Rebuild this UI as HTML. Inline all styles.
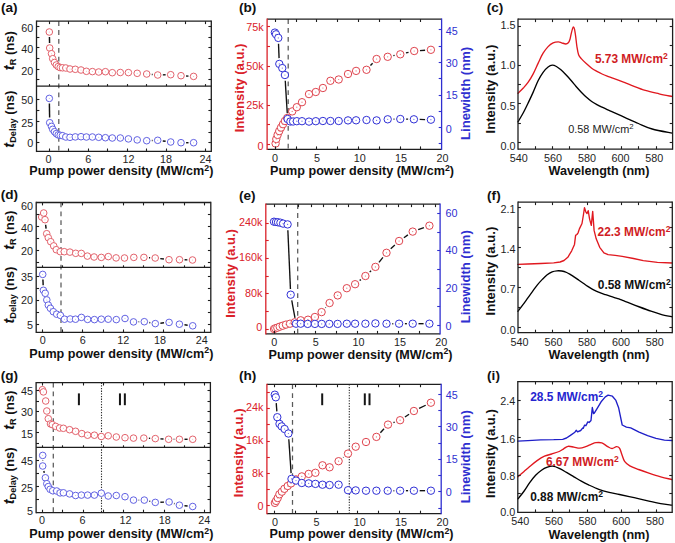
<!DOCTYPE html><html><head><meta charset="utf-8"><style>html,body{margin:0;padding:0;background:#fff;}svg{display:block;font-family:"Liberation Sans", sans-serif;}</style></head><body>
<svg width="675" height="543" viewBox="0 0 675 543">
<rect width="675" height="543" fill="#fff"/>
<line x1="58.8" y1="21.2" x2="58.8" y2="151.4" stroke="#5a5a5a" stroke-width="1.25" stroke-linecap="butt" stroke-dasharray="4.8,4.1"/>
<line x1="49.43" y1="37.1" x2="49.57" y2="42.9" stroke="#111" stroke-width="1.45" stroke-linecap="butt"/>
<line x1="151.78" y1="74.46" x2="152.62" y2="74.54" stroke="#111" stroke-width="1.45" stroke-linecap="butt"/>
<line x1="162.8" y1="74.88" x2="165.6" y2="74.82" stroke="#111" stroke-width="1.45" stroke-linecap="butt"/>
<line x1="186.09" y1="75.98" x2="188.51" y2="76.12" stroke="#111" stroke-width="1.45" stroke-linecap="butt"/>
<circle cx="49.3" cy="32" r="3.3" fill="#fff" stroke="#e05a64" stroke-width="0.95"/>
<circle cx="49.3" cy="32" r="0.5" fill="#e05a64" fill-opacity="0.5"/>
<circle cx="49.7" cy="48" r="3.3" fill="#fff" stroke="#e05a64" stroke-width="0.95"/>
<circle cx="49.7" cy="48" r="0.5" fill="#e05a64" fill-opacity="0.5"/>
<circle cx="51.5" cy="53.7" r="3.3" fill="#fff" stroke="#e05a64" stroke-width="0.95"/>
<circle cx="51.5" cy="53.7" r="0.5" fill="#e05a64" fill-opacity="0.5"/>
<circle cx="52.7" cy="58.7" r="3.3" fill="#fff" stroke="#e05a64" stroke-width="0.95"/>
<circle cx="52.7" cy="58.7" r="0.5" fill="#e05a64" fill-opacity="0.5"/>
<circle cx="54.5" cy="62.5" r="3.3" fill="#fff" stroke="#e05a64" stroke-width="0.95"/>
<circle cx="54.5" cy="62.5" r="0.5" fill="#e05a64" fill-opacity="0.5"/>
<circle cx="56.3" cy="65" r="3.3" fill="#fff" stroke="#e05a64" stroke-width="0.95"/>
<circle cx="56.3" cy="65" r="0.5" fill="#e05a64" fill-opacity="0.5"/>
<circle cx="58.2" cy="66.6" r="3.3" fill="#fff" stroke="#e05a64" stroke-width="0.95"/>
<circle cx="58.2" cy="66.6" r="0.5" fill="#e05a64" fill-opacity="0.5"/>
<circle cx="60.2" cy="67.6" r="3.3" fill="#fff" stroke="#e05a64" stroke-width="0.95"/>
<circle cx="60.2" cy="67.6" r="0.5" fill="#e05a64" fill-opacity="0.5"/>
<circle cx="62.5" cy="67.8" r="3.3" fill="#fff" stroke="#e05a64" stroke-width="0.95"/>
<circle cx="62.5" cy="67.8" r="0.5" fill="#e05a64" fill-opacity="0.5"/>
<circle cx="65.8" cy="68" r="3.3" fill="#fff" stroke="#e05a64" stroke-width="0.95"/>
<circle cx="65.8" cy="68" r="0.5" fill="#e05a64" fill-opacity="0.5"/>
<circle cx="70" cy="69" r="3.3" fill="#fff" stroke="#e05a64" stroke-width="0.95"/>
<circle cx="70" cy="69" r="0.5" fill="#e05a64" fill-opacity="0.5"/>
<circle cx="75.3" cy="69.3" r="3.3" fill="#fff" stroke="#e05a64" stroke-width="0.95"/>
<circle cx="75.3" cy="69.3" r="0.5" fill="#e05a64" fill-opacity="0.5"/>
<circle cx="81" cy="70" r="3.3" fill="#fff" stroke="#e05a64" stroke-width="0.95"/>
<circle cx="81" cy="70" r="0.5" fill="#e05a64" fill-opacity="0.5"/>
<circle cx="86.4" cy="71.3" r="3.3" fill="#fff" stroke="#e05a64" stroke-width="0.95"/>
<circle cx="86.4" cy="71.3" r="0.5" fill="#e05a64" fill-opacity="0.5"/>
<circle cx="92.4" cy="71.6" r="3.3" fill="#fff" stroke="#e05a64" stroke-width="0.95"/>
<circle cx="92.4" cy="71.6" r="0.5" fill="#e05a64" fill-opacity="0.5"/>
<circle cx="98.7" cy="72" r="3.3" fill="#fff" stroke="#e05a64" stroke-width="0.95"/>
<circle cx="98.7" cy="72" r="0.5" fill="#e05a64" fill-opacity="0.5"/>
<circle cx="105.4" cy="71.7" r="3.3" fill="#fff" stroke="#e05a64" stroke-width="0.95"/>
<circle cx="105.4" cy="71.7" r="0.5" fill="#e05a64" fill-opacity="0.5"/>
<circle cx="112.3" cy="72.7" r="3.3" fill="#fff" stroke="#e05a64" stroke-width="0.95"/>
<circle cx="112.3" cy="72.7" r="0.5" fill="#e05a64" fill-opacity="0.5"/>
<circle cx="120.3" cy="72.5" r="3.3" fill="#fff" stroke="#e05a64" stroke-width="0.95"/>
<circle cx="120.3" cy="72.5" r="0.5" fill="#e05a64" fill-opacity="0.5"/>
<circle cx="128.4" cy="72.6" r="3.3" fill="#fff" stroke="#e05a64" stroke-width="0.95"/>
<circle cx="128.4" cy="72.6" r="0.5" fill="#e05a64" fill-opacity="0.5"/>
<circle cx="137.2" cy="73.3" r="3.3" fill="#fff" stroke="#e05a64" stroke-width="0.95"/>
<circle cx="137.2" cy="73.3" r="0.5" fill="#e05a64" fill-opacity="0.5"/>
<circle cx="146.7" cy="74" r="3.3" fill="#fff" stroke="#e05a64" stroke-width="0.95"/>
<circle cx="146.7" cy="74" r="0.5" fill="#e05a64" fill-opacity="0.5"/>
<circle cx="157.7" cy="75" r="3.3" fill="#fff" stroke="#e05a64" stroke-width="0.95"/>
<circle cx="157.7" cy="75" r="0.5" fill="#e05a64" fill-opacity="0.5"/>
<circle cx="170.7" cy="74.7" r="3.3" fill="#fff" stroke="#e05a64" stroke-width="0.95"/>
<circle cx="170.7" cy="74.7" r="0.5" fill="#e05a64" fill-opacity="0.5"/>
<circle cx="181" cy="75.7" r="3.3" fill="#fff" stroke="#e05a64" stroke-width="0.95"/>
<circle cx="181" cy="75.7" r="0.5" fill="#e05a64" fill-opacity="0.5"/>
<circle cx="193.6" cy="76.4" r="3.3" fill="#fff" stroke="#e05a64" stroke-width="0.95"/>
<circle cx="193.6" cy="76.4" r="0.5" fill="#e05a64" fill-opacity="0.5"/>
<line x1="49.38" y1="103.5" x2="49.62" y2="117.6" stroke="#111" stroke-width="1.45" stroke-linecap="butt"/>
<line x1="151.8" y1="140.51" x2="152.6" y2="140.49" stroke="#111" stroke-width="1.45" stroke-linecap="butt"/>
<line x1="162.76" y1="140.96" x2="165.64" y2="141.34" stroke="#111" stroke-width="1.45" stroke-linecap="butt"/>
<line x1="186.1" y1="142.7" x2="188.5" y2="142.7" stroke="#111" stroke-width="1.45" stroke-linecap="butt"/>
<circle cx="49.3" cy="98.4" r="3.3" fill="#fff" stroke="#5a5ae0" stroke-width="0.95"/>
<circle cx="49.3" cy="98.4" r="0.5" fill="#5a5ae0" fill-opacity="0.5"/>
<circle cx="49.7" cy="122.7" r="3.3" fill="#fff" stroke="#5a5ae0" stroke-width="0.95"/>
<circle cx="49.7" cy="122.7" r="0.5" fill="#5a5ae0" fill-opacity="0.5"/>
<circle cx="51.5" cy="126.4" r="3.3" fill="#fff" stroke="#5a5ae0" stroke-width="0.95"/>
<circle cx="51.5" cy="126.4" r="0.5" fill="#5a5ae0" fill-opacity="0.5"/>
<circle cx="52.7" cy="129.3" r="3.3" fill="#fff" stroke="#5a5ae0" stroke-width="0.95"/>
<circle cx="52.7" cy="129.3" r="0.5" fill="#5a5ae0" fill-opacity="0.5"/>
<circle cx="54.5" cy="131.7" r="3.3" fill="#fff" stroke="#5a5ae0" stroke-width="0.95"/>
<circle cx="54.5" cy="131.7" r="0.5" fill="#5a5ae0" fill-opacity="0.5"/>
<circle cx="56.3" cy="133.6" r="3.3" fill="#fff" stroke="#5a5ae0" stroke-width="0.95"/>
<circle cx="56.3" cy="133.6" r="0.5" fill="#5a5ae0" fill-opacity="0.5"/>
<circle cx="58.2" cy="134.9" r="3.3" fill="#fff" stroke="#5a5ae0" stroke-width="0.95"/>
<circle cx="58.2" cy="134.9" r="0.5" fill="#5a5ae0" fill-opacity="0.5"/>
<circle cx="60.2" cy="135.3" r="3.3" fill="#fff" stroke="#5a5ae0" stroke-width="0.95"/>
<circle cx="60.2" cy="135.3" r="0.5" fill="#5a5ae0" fill-opacity="0.5"/>
<circle cx="62.5" cy="135.7" r="3.3" fill="#fff" stroke="#5a5ae0" stroke-width="0.95"/>
<circle cx="62.5" cy="135.7" r="0.5" fill="#5a5ae0" fill-opacity="0.5"/>
<circle cx="65.8" cy="137" r="3.3" fill="#fff" stroke="#5a5ae0" stroke-width="0.95"/>
<circle cx="65.8" cy="137" r="0.5" fill="#5a5ae0" fill-opacity="0.5"/>
<circle cx="70" cy="137.3" r="3.3" fill="#fff" stroke="#5a5ae0" stroke-width="0.95"/>
<circle cx="70" cy="137.3" r="0.5" fill="#5a5ae0" fill-opacity="0.5"/>
<circle cx="75.3" cy="136.9" r="3.3" fill="#fff" stroke="#5a5ae0" stroke-width="0.95"/>
<circle cx="75.3" cy="136.9" r="0.5" fill="#5a5ae0" fill-opacity="0.5"/>
<circle cx="81" cy="136.7" r="3.3" fill="#fff" stroke="#5a5ae0" stroke-width="0.95"/>
<circle cx="81" cy="136.7" r="0.5" fill="#5a5ae0" fill-opacity="0.5"/>
<circle cx="86.4" cy="137" r="3.3" fill="#fff" stroke="#5a5ae0" stroke-width="0.95"/>
<circle cx="86.4" cy="137" r="0.5" fill="#5a5ae0" fill-opacity="0.5"/>
<circle cx="92.4" cy="137" r="3.3" fill="#fff" stroke="#5a5ae0" stroke-width="0.95"/>
<circle cx="92.4" cy="137" r="0.5" fill="#5a5ae0" fill-opacity="0.5"/>
<circle cx="98.7" cy="137.3" r="3.3" fill="#fff" stroke="#5a5ae0" stroke-width="0.95"/>
<circle cx="98.7" cy="137.3" r="0.5" fill="#5a5ae0" fill-opacity="0.5"/>
<circle cx="105.4" cy="137.7" r="3.3" fill="#fff" stroke="#5a5ae0" stroke-width="0.95"/>
<circle cx="105.4" cy="137.7" r="0.5" fill="#5a5ae0" fill-opacity="0.5"/>
<circle cx="112.3" cy="138" r="3.3" fill="#fff" stroke="#5a5ae0" stroke-width="0.95"/>
<circle cx="112.3" cy="138" r="0.5" fill="#5a5ae0" fill-opacity="0.5"/>
<circle cx="120.3" cy="138" r="3.3" fill="#fff" stroke="#5a5ae0" stroke-width="0.95"/>
<circle cx="120.3" cy="138" r="0.5" fill="#5a5ae0" fill-opacity="0.5"/>
<circle cx="128.4" cy="138.9" r="3.3" fill="#fff" stroke="#5a5ae0" stroke-width="0.95"/>
<circle cx="128.4" cy="138.9" r="0.5" fill="#5a5ae0" fill-opacity="0.5"/>
<circle cx="137.2" cy="139.9" r="3.3" fill="#fff" stroke="#5a5ae0" stroke-width="0.95"/>
<circle cx="137.2" cy="139.9" r="0.5" fill="#5a5ae0" fill-opacity="0.5"/>
<circle cx="146.7" cy="140.7" r="3.3" fill="#fff" stroke="#5a5ae0" stroke-width="0.95"/>
<circle cx="146.7" cy="140.7" r="0.5" fill="#5a5ae0" fill-opacity="0.5"/>
<circle cx="157.7" cy="140.3" r="3.3" fill="#fff" stroke="#5a5ae0" stroke-width="0.95"/>
<circle cx="157.7" cy="140.3" r="0.5" fill="#5a5ae0" fill-opacity="0.5"/>
<circle cx="170.7" cy="142" r="3.3" fill="#fff" stroke="#5a5ae0" stroke-width="0.95"/>
<circle cx="170.7" cy="142" r="0.5" fill="#5a5ae0" fill-opacity="0.5"/>
<circle cx="181" cy="142.7" r="3.3" fill="#fff" stroke="#5a5ae0" stroke-width="0.95"/>
<circle cx="181" cy="142.7" r="0.5" fill="#5a5ae0" fill-opacity="0.5"/>
<circle cx="193.6" cy="142.7" r="3.3" fill="#fff" stroke="#5a5ae0" stroke-width="0.95"/>
<circle cx="193.6" cy="142.7" r="0.5" fill="#5a5ae0" fill-opacity="0.5"/>
<line x1="36.5" y1="21.2" x2="211.3" y2="21.2" stroke="#1e1e1e" stroke-width="1.3" stroke-linecap="butt"/>
<line x1="36.5" y1="151.4" x2="211.3" y2="151.4" stroke="#1e1e1e" stroke-width="1.3" stroke-linecap="butt"/>
<line x1="36.5" y1="20.55" x2="36.5" y2="152.05" stroke="#1e1e1e" stroke-width="1.3" stroke-linecap="butt"/>
<line x1="211.3" y1="20.55" x2="211.3" y2="152.05" stroke="#1e1e1e" stroke-width="1.3" stroke-linecap="butt"/>
<line x1="36.5" y1="86.1" x2="211.3" y2="86.1" stroke="#1e1e1e" stroke-width="1.15" stroke-linecap="butt"/>
<line x1="49.5" y1="21.2" x2="49.5" y2="24.1" stroke="#1e1e1e" stroke-width="1.1" stroke-linecap="butt"/>
<line x1="68.5" y1="21.2" x2="68.5" y2="24.1" stroke="#1e1e1e" stroke-width="1.1" stroke-linecap="butt"/>
<line x1="88.5" y1="21.2" x2="88.5" y2="24.1" stroke="#1e1e1e" stroke-width="1.1" stroke-linecap="butt"/>
<line x1="107.5" y1="21.2" x2="107.5" y2="24.1" stroke="#1e1e1e" stroke-width="1.1" stroke-linecap="butt"/>
<line x1="127.5" y1="21.2" x2="127.5" y2="24.1" stroke="#1e1e1e" stroke-width="1.1" stroke-linecap="butt"/>
<line x1="146.5" y1="21.2" x2="146.5" y2="24.1" stroke="#1e1e1e" stroke-width="1.1" stroke-linecap="butt"/>
<line x1="166.5" y1="21.2" x2="166.5" y2="24.1" stroke="#1e1e1e" stroke-width="1.1" stroke-linecap="butt"/>
<line x1="185.5" y1="21.2" x2="185.5" y2="24.1" stroke="#1e1e1e" stroke-width="1.1" stroke-linecap="butt"/>
<line x1="205.5" y1="21.2" x2="205.5" y2="24.1" stroke="#1e1e1e" stroke-width="1.1" stroke-linecap="butt"/>
<line x1="49.5" y1="86.1" x2="49.5" y2="84.1" stroke="#1e1e1e" stroke-width="1.1" stroke-linecap="butt"/>
<line x1="68.5" y1="86.1" x2="68.5" y2="84.1" stroke="#1e1e1e" stroke-width="1.1" stroke-linecap="butt"/>
<line x1="88.5" y1="86.1" x2="88.5" y2="84.1" stroke="#1e1e1e" stroke-width="1.1" stroke-linecap="butt"/>
<line x1="107.5" y1="86.1" x2="107.5" y2="84.1" stroke="#1e1e1e" stroke-width="1.1" stroke-linecap="butt"/>
<line x1="127.5" y1="86.1" x2="127.5" y2="84.1" stroke="#1e1e1e" stroke-width="1.1" stroke-linecap="butt"/>
<line x1="146.5" y1="86.1" x2="146.5" y2="84.1" stroke="#1e1e1e" stroke-width="1.1" stroke-linecap="butt"/>
<line x1="166.5" y1="86.1" x2="166.5" y2="84.1" stroke="#1e1e1e" stroke-width="1.1" stroke-linecap="butt"/>
<line x1="185.5" y1="86.1" x2="185.5" y2="84.1" stroke="#1e1e1e" stroke-width="1.1" stroke-linecap="butt"/>
<line x1="205.5" y1="86.1" x2="205.5" y2="84.1" stroke="#1e1e1e" stroke-width="1.1" stroke-linecap="butt"/>
<line x1="49.5" y1="151.4" x2="49.5" y2="148.5" stroke="#1e1e1e" stroke-width="1.1" stroke-linecap="butt"/>
<line x1="68.5" y1="151.4" x2="68.5" y2="148.5" stroke="#1e1e1e" stroke-width="1.1" stroke-linecap="butt"/>
<line x1="88.5" y1="151.4" x2="88.5" y2="148.5" stroke="#1e1e1e" stroke-width="1.1" stroke-linecap="butt"/>
<line x1="107.5" y1="151.4" x2="107.5" y2="148.5" stroke="#1e1e1e" stroke-width="1.1" stroke-linecap="butt"/>
<line x1="127.5" y1="151.4" x2="127.5" y2="148.5" stroke="#1e1e1e" stroke-width="1.1" stroke-linecap="butt"/>
<line x1="146.5" y1="151.4" x2="146.5" y2="148.5" stroke="#1e1e1e" stroke-width="1.1" stroke-linecap="butt"/>
<line x1="166.5" y1="151.4" x2="166.5" y2="148.5" stroke="#1e1e1e" stroke-width="1.1" stroke-linecap="butt"/>
<line x1="185.5" y1="151.4" x2="185.5" y2="148.5" stroke="#1e1e1e" stroke-width="1.1" stroke-linecap="butt"/>
<line x1="205.5" y1="151.4" x2="205.5" y2="148.5" stroke="#1e1e1e" stroke-width="1.1" stroke-linecap="butt"/>
<line x1="36.5" y1="26.5" x2="39.4" y2="26.5" stroke="#1e1e1e" stroke-width="1.1" stroke-linecap="butt"/>
<line x1="36.5" y1="37.5" x2="39.4" y2="37.5" stroke="#1e1e1e" stroke-width="1.1" stroke-linecap="butt"/>
<line x1="36.5" y1="47.5" x2="39.4" y2="47.5" stroke="#1e1e1e" stroke-width="1.1" stroke-linecap="butt"/>
<line x1="36.5" y1="58.5" x2="39.4" y2="58.5" stroke="#1e1e1e" stroke-width="1.1" stroke-linecap="butt"/>
<line x1="36.5" y1="69.5" x2="39.4" y2="69.5" stroke="#1e1e1e" stroke-width="1.1" stroke-linecap="butt"/>
<line x1="36.5" y1="79.5" x2="39.4" y2="79.5" stroke="#1e1e1e" stroke-width="1.1" stroke-linecap="butt"/>
<line x1="211.3" y1="26.5" x2="208.4" y2="26.5" stroke="#1e1e1e" stroke-width="1.1" stroke-linecap="butt"/>
<line x1="211.3" y1="37.5" x2="208.4" y2="37.5" stroke="#1e1e1e" stroke-width="1.1" stroke-linecap="butt"/>
<line x1="211.3" y1="47.5" x2="208.4" y2="47.5" stroke="#1e1e1e" stroke-width="1.1" stroke-linecap="butt"/>
<line x1="211.3" y1="58.5" x2="208.4" y2="58.5" stroke="#1e1e1e" stroke-width="1.1" stroke-linecap="butt"/>
<line x1="211.3" y1="69.5" x2="208.4" y2="69.5" stroke="#1e1e1e" stroke-width="1.1" stroke-linecap="butt"/>
<line x1="211.3" y1="79.5" x2="208.4" y2="79.5" stroke="#1e1e1e" stroke-width="1.1" stroke-linecap="butt"/>
<line x1="36.5" y1="99.5" x2="39.4" y2="99.5" stroke="#1e1e1e" stroke-width="1.1" stroke-linecap="butt"/>
<line x1="36.5" y1="110.5" x2="39.4" y2="110.5" stroke="#1e1e1e" stroke-width="1.1" stroke-linecap="butt"/>
<line x1="36.5" y1="121.5" x2="39.4" y2="121.5" stroke="#1e1e1e" stroke-width="1.1" stroke-linecap="butt"/>
<line x1="36.5" y1="132.5" x2="39.4" y2="132.5" stroke="#1e1e1e" stroke-width="1.1" stroke-linecap="butt"/>
<line x1="36.5" y1="142.5" x2="39.4" y2="142.5" stroke="#1e1e1e" stroke-width="1.1" stroke-linecap="butt"/>
<line x1="211.3" y1="99.5" x2="208.4" y2="99.5" stroke="#1e1e1e" stroke-width="1.1" stroke-linecap="butt"/>
<line x1="211.3" y1="110.5" x2="208.4" y2="110.5" stroke="#1e1e1e" stroke-width="1.1" stroke-linecap="butt"/>
<line x1="211.3" y1="121.5" x2="208.4" y2="121.5" stroke="#1e1e1e" stroke-width="1.1" stroke-linecap="butt"/>
<line x1="211.3" y1="132.5" x2="208.4" y2="132.5" stroke="#1e1e1e" stroke-width="1.1" stroke-linecap="butt"/>
<line x1="211.3" y1="142.5" x2="208.4" y2="142.5" stroke="#1e1e1e" stroke-width="1.1" stroke-linecap="butt"/>
<text x="33.3" y="31.92" font-size="10.8" fill="#1e1e1e" text-anchor="end" font-weight="normal">60</text>
<text x="33.3" y="53.42" font-size="10.8" fill="#1e1e1e" text-anchor="end" font-weight="normal">40</text>
<text x="33.3" y="75.12" font-size="10.8" fill="#1e1e1e" text-anchor="end" font-weight="normal">20</text>
<text x="33.3" y="104.32" font-size="10.8" fill="#1e1e1e" text-anchor="end" font-weight="normal">50</text>
<text x="33.3" y="127.02" font-size="10.8" fill="#1e1e1e" text-anchor="end" font-weight="normal">25</text>
<text x="33.3" y="147.32" font-size="10.8" fill="#1e1e1e" text-anchor="end" font-weight="normal">0</text>
<text x="48.6" y="162.92" font-size="10.8" fill="#1e1e1e" text-anchor="middle" font-weight="normal">0</text>
<text x="88.3" y="162.92" font-size="10.8" fill="#1e1e1e" text-anchor="middle" font-weight="normal">6</text>
<text x="128.4" y="162.92" font-size="10.8" fill="#1e1e1e" text-anchor="middle" font-weight="normal">12</text>
<text x="166" y="162.92" font-size="10.8" fill="#1e1e1e" text-anchor="middle" font-weight="normal">18</text>
<text x="205.5" y="162.92" font-size="10.8" fill="#1e1e1e" text-anchor="middle" font-weight="normal">24</text>
<text x="29.3" y="174.8" font-size="12.6" fill="#111" font-weight="bold" text-anchor="start">Pump power density (MW/cm<tspan font-size="8.82" dy="-4.2">2</tspan><tspan dy="4.2">)</tspan></text>
<text x="13.8" y="50.6" font-size="13.1" fill="#111" font-weight="bold" text-anchor="middle" transform="rotate(-90 13.8 50.6)"><tspan font-style="italic" font-size="14.67">t</tspan><tspan font-size="9.17" dy="2.6">R</tspan><tspan dy="-2.6"> (ns)</tspan></text>
<text x="13.8" y="119.2" font-size="13.1" fill="#111" font-weight="bold" text-anchor="middle" transform="rotate(-90 13.8 119.2)"><tspan font-style="italic" font-size="14.67">t</tspan><tspan font-size="9.17" dy="2.6">Delay</tspan><tspan dy="-2.6"> (ns)</tspan></text>
<text x="1" y="12.3" font-size="13.6" fill="#111" text-anchor="start" font-weight="bold">(a)</text>
<line x1="61" y1="202.5" x2="61" y2="332.3" stroke="#5a5a5a" stroke-width="1.25" stroke-linecap="butt" stroke-dasharray="4.8,4.1"/>
<line x1="45.61" y1="224.76" x2="46.09" y2="228.64" stroke="#111" stroke-width="1.45" stroke-linecap="butt"/>
<line x1="148.99" y1="257.67" x2="150.11" y2="257.73" stroke="#111" stroke-width="1.45" stroke-linecap="butt"/>
<line x1="160.26" y1="258.62" x2="163.94" y2="259.08" stroke="#111" stroke-width="1.45" stroke-linecap="butt"/>
<line x1="184.6" y1="259.82" x2="187.4" y2="259.88" stroke="#111" stroke-width="1.45" stroke-linecap="butt"/>
<circle cx="41.7" cy="217" r="3.3" fill="#fff" stroke="#e05a64" stroke-width="0.95"/>
<circle cx="41.7" cy="217" r="0.5" fill="#e05a64" fill-opacity="0.5"/>
<circle cx="43.7" cy="213" r="3.3" fill="#fff" stroke="#e05a64" stroke-width="0.95"/>
<circle cx="43.7" cy="213" r="0.5" fill="#e05a64" fill-opacity="0.5"/>
<circle cx="45" cy="219.7" r="3.3" fill="#fff" stroke="#e05a64" stroke-width="0.95"/>
<circle cx="45" cy="219.7" r="0.5" fill="#e05a64" fill-opacity="0.5"/>
<circle cx="46.7" cy="233.7" r="3.3" fill="#fff" stroke="#e05a64" stroke-width="0.95"/>
<circle cx="46.7" cy="233.7" r="0.5" fill="#e05a64" fill-opacity="0.5"/>
<circle cx="48.3" cy="237.7" r="3.3" fill="#fff" stroke="#e05a64" stroke-width="0.95"/>
<circle cx="48.3" cy="237.7" r="0.5" fill="#e05a64" fill-opacity="0.5"/>
<circle cx="50.7" cy="241.7" r="3.3" fill="#fff" stroke="#e05a64" stroke-width="0.95"/>
<circle cx="50.7" cy="241.7" r="0.5" fill="#e05a64" fill-opacity="0.5"/>
<circle cx="53.7" cy="245.9" r="3.3" fill="#fff" stroke="#e05a64" stroke-width="0.95"/>
<circle cx="53.7" cy="245.9" r="0.5" fill="#e05a64" fill-opacity="0.5"/>
<circle cx="56.3" cy="249.7" r="3.3" fill="#fff" stroke="#e05a64" stroke-width="0.95"/>
<circle cx="56.3" cy="249.7" r="0.5" fill="#e05a64" fill-opacity="0.5"/>
<circle cx="60.3" cy="251.7" r="3.3" fill="#fff" stroke="#e05a64" stroke-width="0.95"/>
<circle cx="60.3" cy="251.7" r="0.5" fill="#e05a64" fill-opacity="0.5"/>
<circle cx="64.3" cy="251.7" r="3.3" fill="#fff" stroke="#e05a64" stroke-width="0.95"/>
<circle cx="64.3" cy="251.7" r="0.5" fill="#e05a64" fill-opacity="0.5"/>
<circle cx="69.9" cy="252.1" r="3.3" fill="#fff" stroke="#e05a64" stroke-width="0.95"/>
<circle cx="69.9" cy="252.1" r="0.5" fill="#e05a64" fill-opacity="0.5"/>
<circle cx="75.7" cy="253.3" r="3.3" fill="#fff" stroke="#e05a64" stroke-width="0.95"/>
<circle cx="75.7" cy="253.3" r="0.5" fill="#e05a64" fill-opacity="0.5"/>
<circle cx="81.3" cy="253.4" r="3.3" fill="#fff" stroke="#e05a64" stroke-width="0.95"/>
<circle cx="81.3" cy="253.4" r="0.5" fill="#e05a64" fill-opacity="0.5"/>
<circle cx="87.4" cy="256.1" r="3.3" fill="#fff" stroke="#e05a64" stroke-width="0.95"/>
<circle cx="87.4" cy="256.1" r="0.5" fill="#e05a64" fill-opacity="0.5"/>
<circle cx="94.1" cy="257" r="3.3" fill="#fff" stroke="#e05a64" stroke-width="0.95"/>
<circle cx="94.1" cy="257" r="0.5" fill="#e05a64" fill-opacity="0.5"/>
<circle cx="101.3" cy="257.4" r="3.3" fill="#fff" stroke="#e05a64" stroke-width="0.95"/>
<circle cx="101.3" cy="257.4" r="0.5" fill="#e05a64" fill-opacity="0.5"/>
<circle cx="108.3" cy="256.6" r="3.3" fill="#fff" stroke="#e05a64" stroke-width="0.95"/>
<circle cx="108.3" cy="256.6" r="0.5" fill="#e05a64" fill-opacity="0.5"/>
<circle cx="116.1" cy="257.9" r="3.3" fill="#fff" stroke="#e05a64" stroke-width="0.95"/>
<circle cx="116.1" cy="257.9" r="0.5" fill="#e05a64" fill-opacity="0.5"/>
<circle cx="124.5" cy="258" r="3.3" fill="#fff" stroke="#e05a64" stroke-width="0.95"/>
<circle cx="124.5" cy="258" r="0.5" fill="#e05a64" fill-opacity="0.5"/>
<circle cx="133.8" cy="257.4" r="3.3" fill="#fff" stroke="#e05a64" stroke-width="0.95"/>
<circle cx="133.8" cy="257.4" r="0.5" fill="#e05a64" fill-opacity="0.5"/>
<circle cx="143.9" cy="257.4" r="3.3" fill="#fff" stroke="#e05a64" stroke-width="0.95"/>
<circle cx="143.9" cy="257.4" r="0.5" fill="#e05a64" fill-opacity="0.5"/>
<circle cx="155.2" cy="258" r="3.3" fill="#fff" stroke="#e05a64" stroke-width="0.95"/>
<circle cx="155.2" cy="258" r="0.5" fill="#e05a64" fill-opacity="0.5"/>
<circle cx="169" cy="259.7" r="3.3" fill="#fff" stroke="#e05a64" stroke-width="0.95"/>
<circle cx="169" cy="259.7" r="0.5" fill="#e05a64" fill-opacity="0.5"/>
<circle cx="179.5" cy="259.7" r="3.3" fill="#fff" stroke="#e05a64" stroke-width="0.95"/>
<circle cx="179.5" cy="259.7" r="0.5" fill="#e05a64" fill-opacity="0.5"/>
<circle cx="192.5" cy="260" r="3.3" fill="#fff" stroke="#e05a64" stroke-width="0.95"/>
<circle cx="192.5" cy="260" r="0.5" fill="#e05a64" fill-opacity="0.5"/>
<line x1="42.92" y1="279.5" x2="43.18" y2="285.2" stroke="#111" stroke-width="1.45" stroke-linecap="butt"/>
<line x1="138.6" y1="321.81" x2="139.2" y2="321.79" stroke="#111" stroke-width="1.45" stroke-linecap="butt"/>
<line x1="149.33" y1="322.57" x2="150.27" y2="322.73" stroke="#111" stroke-width="1.45" stroke-linecap="butt"/>
<line x1="160.38" y1="323.16" x2="164.02" y2="322.84" stroke="#111" stroke-width="1.45" stroke-linecap="butt"/>
<line x1="184.46" y1="324.81" x2="187.64" y2="325.19" stroke="#111" stroke-width="1.45" stroke-linecap="butt"/>
<circle cx="42.7" cy="274.4" r="3.3" fill="#fff" stroke="#5a5ae0" stroke-width="0.95"/>
<circle cx="42.7" cy="274.4" r="0.5" fill="#5a5ae0" fill-opacity="0.5"/>
<circle cx="43.4" cy="290.3" r="3.3" fill="#fff" stroke="#5a5ae0" stroke-width="0.95"/>
<circle cx="43.4" cy="290.3" r="0.5" fill="#5a5ae0" fill-opacity="0.5"/>
<circle cx="45.2" cy="293.3" r="3.3" fill="#fff" stroke="#5a5ae0" stroke-width="0.95"/>
<circle cx="45.2" cy="293.3" r="0.5" fill="#5a5ae0" fill-opacity="0.5"/>
<circle cx="46.8" cy="299.9" r="3.3" fill="#fff" stroke="#5a5ae0" stroke-width="0.95"/>
<circle cx="46.8" cy="299.9" r="0.5" fill="#5a5ae0" fill-opacity="0.5"/>
<circle cx="48.3" cy="305.1" r="3.3" fill="#fff" stroke="#5a5ae0" stroke-width="0.95"/>
<circle cx="48.3" cy="305.1" r="0.5" fill="#5a5ae0" fill-opacity="0.5"/>
<circle cx="50.4" cy="308.3" r="3.3" fill="#fff" stroke="#5a5ae0" stroke-width="0.95"/>
<circle cx="50.4" cy="308.3" r="0.5" fill="#5a5ae0" fill-opacity="0.5"/>
<circle cx="53.3" cy="311.7" r="3.3" fill="#fff" stroke="#5a5ae0" stroke-width="0.95"/>
<circle cx="53.3" cy="311.7" r="0.5" fill="#5a5ae0" fill-opacity="0.5"/>
<circle cx="56.7" cy="314.2" r="3.3" fill="#fff" stroke="#5a5ae0" stroke-width="0.95"/>
<circle cx="56.7" cy="314.2" r="0.5" fill="#5a5ae0" fill-opacity="0.5"/>
<circle cx="60.4" cy="315.4" r="3.3" fill="#fff" stroke="#5a5ae0" stroke-width="0.95"/>
<circle cx="60.4" cy="315.4" r="0.5" fill="#5a5ae0" fill-opacity="0.5"/>
<circle cx="64.5" cy="319.2" r="3.3" fill="#fff" stroke="#5a5ae0" stroke-width="0.95"/>
<circle cx="64.5" cy="319.2" r="0.5" fill="#5a5ae0" fill-opacity="0.5"/>
<circle cx="70.2" cy="319" r="3.3" fill="#fff" stroke="#5a5ae0" stroke-width="0.95"/>
<circle cx="70.2" cy="319" r="0.5" fill="#5a5ae0" fill-opacity="0.5"/>
<circle cx="75.5" cy="319.2" r="3.3" fill="#fff" stroke="#5a5ae0" stroke-width="0.95"/>
<circle cx="75.5" cy="319.2" r="0.5" fill="#5a5ae0" fill-opacity="0.5"/>
<circle cx="81.4" cy="317.4" r="3.3" fill="#fff" stroke="#5a5ae0" stroke-width="0.95"/>
<circle cx="81.4" cy="317.4" r="0.5" fill="#5a5ae0" fill-opacity="0.5"/>
<circle cx="87.6" cy="319.4" r="3.3" fill="#fff" stroke="#5a5ae0" stroke-width="0.95"/>
<circle cx="87.6" cy="319.4" r="0.5" fill="#5a5ae0" fill-opacity="0.5"/>
<circle cx="94.4" cy="319.6" r="3.3" fill="#fff" stroke="#5a5ae0" stroke-width="0.95"/>
<circle cx="94.4" cy="319.6" r="0.5" fill="#5a5ae0" fill-opacity="0.5"/>
<circle cx="101.3" cy="319.2" r="3.3" fill="#fff" stroke="#5a5ae0" stroke-width="0.95"/>
<circle cx="101.3" cy="319.2" r="0.5" fill="#5a5ae0" fill-opacity="0.5"/>
<circle cx="108.2" cy="319.2" r="3.3" fill="#fff" stroke="#5a5ae0" stroke-width="0.95"/>
<circle cx="108.2" cy="319.2" r="0.5" fill="#5a5ae0" fill-opacity="0.5"/>
<circle cx="116.3" cy="319.6" r="3.3" fill="#fff" stroke="#5a5ae0" stroke-width="0.95"/>
<circle cx="116.3" cy="319.6" r="0.5" fill="#5a5ae0" fill-opacity="0.5"/>
<circle cx="125" cy="318.5" r="3.3" fill="#fff" stroke="#5a5ae0" stroke-width="0.95"/>
<circle cx="125" cy="318.5" r="0.5" fill="#5a5ae0" fill-opacity="0.5"/>
<circle cx="133.5" cy="321.9" r="3.3" fill="#fff" stroke="#5a5ae0" stroke-width="0.95"/>
<circle cx="133.5" cy="321.9" r="0.5" fill="#5a5ae0" fill-opacity="0.5"/>
<circle cx="144.3" cy="321.7" r="3.3" fill="#fff" stroke="#5a5ae0" stroke-width="0.95"/>
<circle cx="144.3" cy="321.7" r="0.5" fill="#5a5ae0" fill-opacity="0.5"/>
<circle cx="155.3" cy="323.6" r="3.3" fill="#fff" stroke="#5a5ae0" stroke-width="0.95"/>
<circle cx="155.3" cy="323.6" r="0.5" fill="#5a5ae0" fill-opacity="0.5"/>
<circle cx="169.1" cy="322.4" r="3.3" fill="#fff" stroke="#5a5ae0" stroke-width="0.95"/>
<circle cx="169.1" cy="322.4" r="0.5" fill="#5a5ae0" fill-opacity="0.5"/>
<circle cx="179.4" cy="324.2" r="3.3" fill="#fff" stroke="#5a5ae0" stroke-width="0.95"/>
<circle cx="179.4" cy="324.2" r="0.5" fill="#5a5ae0" fill-opacity="0.5"/>
<circle cx="192.7" cy="325.8" r="3.3" fill="#fff" stroke="#5a5ae0" stroke-width="0.95"/>
<circle cx="192.7" cy="325.8" r="0.5" fill="#5a5ae0" fill-opacity="0.5"/>
<line x1="36.2" y1="202.5" x2="210.8" y2="202.5" stroke="#1e1e1e" stroke-width="1.3" stroke-linecap="butt"/>
<line x1="36.2" y1="332.3" x2="210.8" y2="332.3" stroke="#1e1e1e" stroke-width="1.3" stroke-linecap="butt"/>
<line x1="36.2" y1="201.85" x2="36.2" y2="332.95" stroke="#1e1e1e" stroke-width="1.3" stroke-linecap="butt"/>
<line x1="210.8" y1="201.85" x2="210.8" y2="332.95" stroke="#1e1e1e" stroke-width="1.3" stroke-linecap="butt"/>
<line x1="36.2" y1="267.3" x2="210.8" y2="267.3" stroke="#1e1e1e" stroke-width="1.15" stroke-linecap="butt"/>
<line x1="42.5" y1="202.5" x2="42.5" y2="205.4" stroke="#1e1e1e" stroke-width="1.1" stroke-linecap="butt"/>
<line x1="62.5" y1="202.5" x2="62.5" y2="205.4" stroke="#1e1e1e" stroke-width="1.1" stroke-linecap="butt"/>
<line x1="82.5" y1="202.5" x2="82.5" y2="205.4" stroke="#1e1e1e" stroke-width="1.1" stroke-linecap="butt"/>
<line x1="103.5" y1="202.5" x2="103.5" y2="205.4" stroke="#1e1e1e" stroke-width="1.1" stroke-linecap="butt"/>
<line x1="123.5" y1="202.5" x2="123.5" y2="205.4" stroke="#1e1e1e" stroke-width="1.1" stroke-linecap="butt"/>
<line x1="143.5" y1="202.5" x2="143.5" y2="205.4" stroke="#1e1e1e" stroke-width="1.1" stroke-linecap="butt"/>
<line x1="163.5" y1="202.5" x2="163.5" y2="205.4" stroke="#1e1e1e" stroke-width="1.1" stroke-linecap="butt"/>
<line x1="184.5" y1="202.5" x2="184.5" y2="205.4" stroke="#1e1e1e" stroke-width="1.1" stroke-linecap="butt"/>
<line x1="204.5" y1="202.5" x2="204.5" y2="205.4" stroke="#1e1e1e" stroke-width="1.1" stroke-linecap="butt"/>
<line x1="42.5" y1="267.3" x2="42.5" y2="265.3" stroke="#1e1e1e" stroke-width="1.1" stroke-linecap="butt"/>
<line x1="62.5" y1="267.3" x2="62.5" y2="265.3" stroke="#1e1e1e" stroke-width="1.1" stroke-linecap="butt"/>
<line x1="82.5" y1="267.3" x2="82.5" y2="265.3" stroke="#1e1e1e" stroke-width="1.1" stroke-linecap="butt"/>
<line x1="103.5" y1="267.3" x2="103.5" y2="265.3" stroke="#1e1e1e" stroke-width="1.1" stroke-linecap="butt"/>
<line x1="123.5" y1="267.3" x2="123.5" y2="265.3" stroke="#1e1e1e" stroke-width="1.1" stroke-linecap="butt"/>
<line x1="143.5" y1="267.3" x2="143.5" y2="265.3" stroke="#1e1e1e" stroke-width="1.1" stroke-linecap="butt"/>
<line x1="163.5" y1="267.3" x2="163.5" y2="265.3" stroke="#1e1e1e" stroke-width="1.1" stroke-linecap="butt"/>
<line x1="184.5" y1="267.3" x2="184.5" y2="265.3" stroke="#1e1e1e" stroke-width="1.1" stroke-linecap="butt"/>
<line x1="204.5" y1="267.3" x2="204.5" y2="265.3" stroke="#1e1e1e" stroke-width="1.1" stroke-linecap="butt"/>
<line x1="42.5" y1="332.3" x2="42.5" y2="329.4" stroke="#1e1e1e" stroke-width="1.1" stroke-linecap="butt"/>
<line x1="62.5" y1="332.3" x2="62.5" y2="329.4" stroke="#1e1e1e" stroke-width="1.1" stroke-linecap="butt"/>
<line x1="82.5" y1="332.3" x2="82.5" y2="329.4" stroke="#1e1e1e" stroke-width="1.1" stroke-linecap="butt"/>
<line x1="103.5" y1="332.3" x2="103.5" y2="329.4" stroke="#1e1e1e" stroke-width="1.1" stroke-linecap="butt"/>
<line x1="123.5" y1="332.3" x2="123.5" y2="329.4" stroke="#1e1e1e" stroke-width="1.1" stroke-linecap="butt"/>
<line x1="143.5" y1="332.3" x2="143.5" y2="329.4" stroke="#1e1e1e" stroke-width="1.1" stroke-linecap="butt"/>
<line x1="163.5" y1="332.3" x2="163.5" y2="329.4" stroke="#1e1e1e" stroke-width="1.1" stroke-linecap="butt"/>
<line x1="184.5" y1="332.3" x2="184.5" y2="329.4" stroke="#1e1e1e" stroke-width="1.1" stroke-linecap="butt"/>
<line x1="204.5" y1="332.3" x2="204.5" y2="329.4" stroke="#1e1e1e" stroke-width="1.1" stroke-linecap="butt"/>
<line x1="36.2" y1="214.5" x2="39.1" y2="214.5" stroke="#1e1e1e" stroke-width="1.1" stroke-linecap="butt"/>
<line x1="36.2" y1="226.5" x2="39.1" y2="226.5" stroke="#1e1e1e" stroke-width="1.1" stroke-linecap="butt"/>
<line x1="36.2" y1="238.5" x2="39.1" y2="238.5" stroke="#1e1e1e" stroke-width="1.1" stroke-linecap="butt"/>
<line x1="36.2" y1="250.5" x2="39.1" y2="250.5" stroke="#1e1e1e" stroke-width="1.1" stroke-linecap="butt"/>
<line x1="36.2" y1="262.5" x2="39.1" y2="262.5" stroke="#1e1e1e" stroke-width="1.1" stroke-linecap="butt"/>
<line x1="210.8" y1="214.5" x2="207.9" y2="214.5" stroke="#1e1e1e" stroke-width="1.1" stroke-linecap="butt"/>
<line x1="210.8" y1="226.5" x2="207.9" y2="226.5" stroke="#1e1e1e" stroke-width="1.1" stroke-linecap="butt"/>
<line x1="210.8" y1="238.5" x2="207.9" y2="238.5" stroke="#1e1e1e" stroke-width="1.1" stroke-linecap="butt"/>
<line x1="210.8" y1="250.5" x2="207.9" y2="250.5" stroke="#1e1e1e" stroke-width="1.1" stroke-linecap="butt"/>
<line x1="210.8" y1="262.5" x2="207.9" y2="262.5" stroke="#1e1e1e" stroke-width="1.1" stroke-linecap="butt"/>
<line x1="36.2" y1="276.5" x2="39.1" y2="276.5" stroke="#1e1e1e" stroke-width="1.1" stroke-linecap="butt"/>
<line x1="36.2" y1="288.5" x2="39.1" y2="288.5" stroke="#1e1e1e" stroke-width="1.1" stroke-linecap="butt"/>
<line x1="36.2" y1="300.5" x2="39.1" y2="300.5" stroke="#1e1e1e" stroke-width="1.1" stroke-linecap="butt"/>
<line x1="36.2" y1="312.5" x2="39.1" y2="312.5" stroke="#1e1e1e" stroke-width="1.1" stroke-linecap="butt"/>
<line x1="36.2" y1="324.5" x2="39.1" y2="324.5" stroke="#1e1e1e" stroke-width="1.1" stroke-linecap="butt"/>
<line x1="210.8" y1="276.5" x2="207.9" y2="276.5" stroke="#1e1e1e" stroke-width="1.1" stroke-linecap="butt"/>
<line x1="210.8" y1="288.5" x2="207.9" y2="288.5" stroke="#1e1e1e" stroke-width="1.1" stroke-linecap="butt"/>
<line x1="210.8" y1="300.5" x2="207.9" y2="300.5" stroke="#1e1e1e" stroke-width="1.1" stroke-linecap="butt"/>
<line x1="210.8" y1="312.5" x2="207.9" y2="312.5" stroke="#1e1e1e" stroke-width="1.1" stroke-linecap="butt"/>
<line x1="210.8" y1="324.5" x2="207.9" y2="324.5" stroke="#1e1e1e" stroke-width="1.1" stroke-linecap="butt"/>
<text x="33" y="210.22" font-size="10.8" fill="#1e1e1e" text-anchor="end" font-weight="normal">60</text>
<text x="33" y="232.22" font-size="10.8" fill="#1e1e1e" text-anchor="end" font-weight="normal">40</text>
<text x="33" y="254.72" font-size="10.8" fill="#1e1e1e" text-anchor="end" font-weight="normal">20</text>
<text x="33" y="280.92" font-size="10.8" fill="#1e1e1e" text-anchor="end" font-weight="normal">35</text>
<text x="33" y="304.02" font-size="10.8" fill="#1e1e1e" text-anchor="end" font-weight="normal">20</text>
<text x="33" y="328.62" font-size="10.8" fill="#1e1e1e" text-anchor="end" font-weight="normal">5</text>
<text x="42.7" y="344.42" font-size="10.8" fill="#1e1e1e" text-anchor="middle" font-weight="normal">0</text>
<text x="82.7" y="344.42" font-size="10.8" fill="#1e1e1e" text-anchor="middle" font-weight="normal">6</text>
<text x="123.2" y="344.42" font-size="10.8" fill="#1e1e1e" text-anchor="middle" font-weight="normal">12</text>
<text x="160" y="344.42" font-size="10.8" fill="#1e1e1e" text-anchor="middle" font-weight="normal">18</text>
<text x="201.8" y="344.42" font-size="10.8" fill="#1e1e1e" text-anchor="middle" font-weight="normal">24</text>
<text x="29.3" y="357.5" font-size="12.6" fill="#111" font-weight="bold" text-anchor="start">Pump power density (MW/cm<tspan font-size="8.82" dy="-4.2">2</tspan><tspan dy="4.2">)</tspan></text>
<text x="13.8" y="230.3" font-size="13.1" fill="#111" font-weight="bold" text-anchor="middle" transform="rotate(-90 13.8 230.3)"><tspan font-style="italic" font-size="14.67">t</tspan><tspan font-size="9.17" dy="2.6">R</tspan><tspan dy="-2.6"> (ns)</tspan></text>
<text x="13.8" y="295.1" font-size="13.1" fill="#111" font-weight="bold" text-anchor="middle" transform="rotate(-90 13.8 295.1)"><tspan font-style="italic" font-size="14.67">t</tspan><tspan font-size="9.17" dy="2.6">Delay</tspan><tspan dy="-2.6"> (ns)</tspan></text>
<text x="0.7" y="199" font-size="13.6" fill="#111" text-anchor="start" font-weight="bold">(d)</text>
<line x1="53.3" y1="382.6" x2="53.3" y2="512.6" stroke="#5a5a5a" stroke-width="1.25" stroke-linecap="butt" stroke-dasharray="4.8,4.1"/>
<line x1="101.5" y1="382.6" x2="101.5" y2="512.6" stroke="#2e2e2e" stroke-width="1.1" stroke-linecap="butt" stroke-dasharray="1.3,1.37"/>
<line x1="148.9" y1="438.32" x2="150.2" y2="438.38" stroke="#111" stroke-width="1.45" stroke-linecap="butt"/>
<line x1="160.39" y1="438.87" x2="163.51" y2="439.03" stroke="#111" stroke-width="1.45" stroke-linecap="butt"/>
<line x1="173.7" y1="439.3" x2="174.3" y2="439.3" stroke="#111" stroke-width="1.45" stroke-linecap="butt"/>
<line x1="184.5" y1="439.3" x2="187.6" y2="439.3" stroke="#111" stroke-width="1.45" stroke-linecap="butt"/>
<circle cx="42.4" cy="389.7" r="3.3" fill="#fff" stroke="#e05a64" stroke-width="0.95"/>
<circle cx="42.4" cy="389.7" r="0.5" fill="#e05a64" fill-opacity="0.5"/>
<circle cx="43.4" cy="391.9" r="3.3" fill="#fff" stroke="#e05a64" stroke-width="0.95"/>
<circle cx="43.4" cy="391.9" r="0.5" fill="#e05a64" fill-opacity="0.5"/>
<circle cx="45.7" cy="401" r="3.3" fill="#fff" stroke="#e05a64" stroke-width="0.95"/>
<circle cx="45.7" cy="401" r="0.5" fill="#e05a64" fill-opacity="0.5"/>
<circle cx="46.8" cy="411" r="3.3" fill="#fff" stroke="#e05a64" stroke-width="0.95"/>
<circle cx="46.8" cy="411" r="0.5" fill="#e05a64" fill-opacity="0.5"/>
<circle cx="48.3" cy="418.7" r="3.3" fill="#fff" stroke="#e05a64" stroke-width="0.95"/>
<circle cx="48.3" cy="418.7" r="0.5" fill="#e05a64" fill-opacity="0.5"/>
<circle cx="50.5" cy="423.9" r="3.3" fill="#fff" stroke="#e05a64" stroke-width="0.95"/>
<circle cx="50.5" cy="423.9" r="0.5" fill="#e05a64" fill-opacity="0.5"/>
<circle cx="52.3" cy="424.6" r="3.3" fill="#fff" stroke="#e05a64" stroke-width="0.95"/>
<circle cx="52.3" cy="424.6" r="0.5" fill="#e05a64" fill-opacity="0.5"/>
<circle cx="55.7" cy="426.4" r="3.3" fill="#fff" stroke="#e05a64" stroke-width="0.95"/>
<circle cx="55.7" cy="426.4" r="0.5" fill="#e05a64" fill-opacity="0.5"/>
<circle cx="59.6" cy="428" r="3.3" fill="#fff" stroke="#e05a64" stroke-width="0.95"/>
<circle cx="59.6" cy="428" r="0.5" fill="#e05a64" fill-opacity="0.5"/>
<circle cx="63.4" cy="428.3" r="3.3" fill="#fff" stroke="#e05a64" stroke-width="0.95"/>
<circle cx="63.4" cy="428.3" r="0.5" fill="#e05a64" fill-opacity="0.5"/>
<circle cx="69.6" cy="429.7" r="3.3" fill="#fff" stroke="#e05a64" stroke-width="0.95"/>
<circle cx="69.6" cy="429.7" r="0.5" fill="#e05a64" fill-opacity="0.5"/>
<circle cx="75.6" cy="431.3" r="3.3" fill="#fff" stroke="#e05a64" stroke-width="0.95"/>
<circle cx="75.6" cy="431.3" r="0.5" fill="#e05a64" fill-opacity="0.5"/>
<circle cx="81.8" cy="433.6" r="3.3" fill="#fff" stroke="#e05a64" stroke-width="0.95"/>
<circle cx="81.8" cy="433.6" r="0.5" fill="#e05a64" fill-opacity="0.5"/>
<circle cx="87.6" cy="435.2" r="3.3" fill="#fff" stroke="#e05a64" stroke-width="0.95"/>
<circle cx="87.6" cy="435.2" r="0.5" fill="#e05a64" fill-opacity="0.5"/>
<circle cx="94.4" cy="435.2" r="3.3" fill="#fff" stroke="#e05a64" stroke-width="0.95"/>
<circle cx="94.4" cy="435.2" r="0.5" fill="#e05a64" fill-opacity="0.5"/>
<circle cx="101.3" cy="436.5" r="3.3" fill="#fff" stroke="#e05a64" stroke-width="0.95"/>
<circle cx="101.3" cy="436.5" r="0.5" fill="#e05a64" fill-opacity="0.5"/>
<circle cx="108.2" cy="435.8" r="3.3" fill="#fff" stroke="#e05a64" stroke-width="0.95"/>
<circle cx="108.2" cy="435.8" r="0.5" fill="#e05a64" fill-opacity="0.5"/>
<circle cx="116.3" cy="437" r="3.3" fill="#fff" stroke="#e05a64" stroke-width="0.95"/>
<circle cx="116.3" cy="437" r="0.5" fill="#e05a64" fill-opacity="0.5"/>
<circle cx="125" cy="437.7" r="3.3" fill="#fff" stroke="#e05a64" stroke-width="0.95"/>
<circle cx="125" cy="437.7" r="0.5" fill="#e05a64" fill-opacity="0.5"/>
<circle cx="133.5" cy="438.1" r="3.3" fill="#fff" stroke="#e05a64" stroke-width="0.95"/>
<circle cx="133.5" cy="438.1" r="0.5" fill="#e05a64" fill-opacity="0.5"/>
<circle cx="143.8" cy="438.1" r="3.3" fill="#fff" stroke="#e05a64" stroke-width="0.95"/>
<circle cx="143.8" cy="438.1" r="0.5" fill="#e05a64" fill-opacity="0.5"/>
<circle cx="155.3" cy="438.6" r="3.3" fill="#fff" stroke="#e05a64" stroke-width="0.95"/>
<circle cx="155.3" cy="438.6" r="0.5" fill="#e05a64" fill-opacity="0.5"/>
<circle cx="168.6" cy="439.3" r="3.3" fill="#fff" stroke="#e05a64" stroke-width="0.95"/>
<circle cx="168.6" cy="439.3" r="0.5" fill="#e05a64" fill-opacity="0.5"/>
<circle cx="179.4" cy="439.3" r="3.3" fill="#fff" stroke="#e05a64" stroke-width="0.95"/>
<circle cx="179.4" cy="439.3" r="0.5" fill="#e05a64" fill-opacity="0.5"/>
<circle cx="192.7" cy="439.3" r="3.3" fill="#fff" stroke="#e05a64" stroke-width="0.95"/>
<circle cx="192.7" cy="439.3" r="0.5" fill="#e05a64" fill-opacity="0.5"/>
<line x1="42.7" y1="460.5" x2="42.7" y2="460.9" stroke="#111" stroke-width="1.45" stroke-linecap="butt"/>
<line x1="43.84" y1="470.97" x2="44.26" y2="472.83" stroke="#111" stroke-width="1.45" stroke-linecap="butt"/>
<line x1="138.6" y1="500.1" x2="139.2" y2="500.1" stroke="#111" stroke-width="1.45" stroke-linecap="butt"/>
<line x1="149.29" y1="501.14" x2="150.31" y2="501.36" stroke="#111" stroke-width="1.45" stroke-linecap="butt"/>
<line x1="160.4" y1="502.25" x2="164" y2="502.15" stroke="#111" stroke-width="1.45" stroke-linecap="butt"/>
<line x1="173.97" y1="503.51" x2="174.53" y2="503.69" stroke="#111" stroke-width="1.45" stroke-linecap="butt"/>
<line x1="184.48" y1="505.7" x2="187.62" y2="506" stroke="#111" stroke-width="1.45" stroke-linecap="butt"/>
<circle cx="42.7" cy="455.4" r="3.3" fill="#fff" stroke="#5a5ae0" stroke-width="0.95"/>
<circle cx="42.7" cy="455.4" r="0.5" fill="#5a5ae0" fill-opacity="0.5"/>
<circle cx="42.7" cy="466" r="3.3" fill="#fff" stroke="#5a5ae0" stroke-width="0.95"/>
<circle cx="42.7" cy="466" r="0.5" fill="#5a5ae0" fill-opacity="0.5"/>
<circle cx="45.4" cy="477.8" r="3.3" fill="#fff" stroke="#5a5ae0" stroke-width="0.95"/>
<circle cx="45.4" cy="477.8" r="0.5" fill="#5a5ae0" fill-opacity="0.5"/>
<circle cx="46.8" cy="483.7" r="3.3" fill="#fff" stroke="#5a5ae0" stroke-width="0.95"/>
<circle cx="46.8" cy="483.7" r="0.5" fill="#5a5ae0" fill-opacity="0.5"/>
<circle cx="48.3" cy="486.6" r="3.3" fill="#fff" stroke="#5a5ae0" stroke-width="0.95"/>
<circle cx="48.3" cy="486.6" r="0.5" fill="#5a5ae0" fill-opacity="0.5"/>
<circle cx="50.1" cy="489.3" r="3.3" fill="#fff" stroke="#5a5ae0" stroke-width="0.95"/>
<circle cx="50.1" cy="489.3" r="0.5" fill="#5a5ae0" fill-opacity="0.5"/>
<circle cx="52.7" cy="490.7" r="3.3" fill="#fff" stroke="#5a5ae0" stroke-width="0.95"/>
<circle cx="52.7" cy="490.7" r="0.5" fill="#5a5ae0" fill-opacity="0.5"/>
<circle cx="56.7" cy="491" r="3.3" fill="#fff" stroke="#5a5ae0" stroke-width="0.95"/>
<circle cx="56.7" cy="491" r="0.5" fill="#5a5ae0" fill-opacity="0.5"/>
<circle cx="60.1" cy="492.9" r="3.3" fill="#fff" stroke="#5a5ae0" stroke-width="0.95"/>
<circle cx="60.1" cy="492.9" r="0.5" fill="#5a5ae0" fill-opacity="0.5"/>
<circle cx="63.4" cy="492.8" r="3.3" fill="#fff" stroke="#5a5ae0" stroke-width="0.95"/>
<circle cx="63.4" cy="492.8" r="0.5" fill="#5a5ae0" fill-opacity="0.5"/>
<circle cx="69.6" cy="493.9" r="3.3" fill="#fff" stroke="#5a5ae0" stroke-width="0.95"/>
<circle cx="69.6" cy="493.9" r="0.5" fill="#5a5ae0" fill-opacity="0.5"/>
<circle cx="75.6" cy="495.5" r="3.3" fill="#fff" stroke="#5a5ae0" stroke-width="0.95"/>
<circle cx="75.6" cy="495.5" r="0.5" fill="#5a5ae0" fill-opacity="0.5"/>
<circle cx="81.4" cy="495.1" r="3.3" fill="#fff" stroke="#5a5ae0" stroke-width="0.95"/>
<circle cx="81.4" cy="495.1" r="0.5" fill="#5a5ae0" fill-opacity="0.5"/>
<circle cx="87.6" cy="495.1" r="3.3" fill="#fff" stroke="#5a5ae0" stroke-width="0.95"/>
<circle cx="87.6" cy="495.1" r="0.5" fill="#5a5ae0" fill-opacity="0.5"/>
<circle cx="94.4" cy="495.1" r="3.3" fill="#fff" stroke="#5a5ae0" stroke-width="0.95"/>
<circle cx="94.4" cy="495.1" r="0.5" fill="#5a5ae0" fill-opacity="0.5"/>
<circle cx="101.3" cy="493.2" r="3.3" fill="#fff" stroke="#5a5ae0" stroke-width="0.95"/>
<circle cx="101.3" cy="493.2" r="0.5" fill="#5a5ae0" fill-opacity="0.5"/>
<circle cx="108.2" cy="496" r="3.3" fill="#fff" stroke="#5a5ae0" stroke-width="0.95"/>
<circle cx="108.2" cy="496" r="0.5" fill="#5a5ae0" fill-opacity="0.5"/>
<circle cx="116.3" cy="495.5" r="3.3" fill="#fff" stroke="#5a5ae0" stroke-width="0.95"/>
<circle cx="116.3" cy="495.5" r="0.5" fill="#5a5ae0" fill-opacity="0.5"/>
<circle cx="125" cy="496.7" r="3.3" fill="#fff" stroke="#5a5ae0" stroke-width="0.95"/>
<circle cx="125" cy="496.7" r="0.5" fill="#5a5ae0" fill-opacity="0.5"/>
<circle cx="133.5" cy="500.1" r="3.3" fill="#fff" stroke="#5a5ae0" stroke-width="0.95"/>
<circle cx="133.5" cy="500.1" r="0.5" fill="#5a5ae0" fill-opacity="0.5"/>
<circle cx="144.3" cy="500.1" r="3.3" fill="#fff" stroke="#5a5ae0" stroke-width="0.95"/>
<circle cx="144.3" cy="500.1" r="0.5" fill="#5a5ae0" fill-opacity="0.5"/>
<circle cx="155.3" cy="502.4" r="3.3" fill="#fff" stroke="#5a5ae0" stroke-width="0.95"/>
<circle cx="155.3" cy="502.4" r="0.5" fill="#5a5ae0" fill-opacity="0.5"/>
<circle cx="169.1" cy="502" r="3.3" fill="#fff" stroke="#5a5ae0" stroke-width="0.95"/>
<circle cx="169.1" cy="502" r="0.5" fill="#5a5ae0" fill-opacity="0.5"/>
<circle cx="179.4" cy="505.2" r="3.3" fill="#fff" stroke="#5a5ae0" stroke-width="0.95"/>
<circle cx="179.4" cy="505.2" r="0.5" fill="#5a5ae0" fill-opacity="0.5"/>
<circle cx="192.7" cy="506.5" r="3.3" fill="#fff" stroke="#5a5ae0" stroke-width="0.95"/>
<circle cx="192.7" cy="506.5" r="0.5" fill="#5a5ae0" fill-opacity="0.5"/>
<line x1="36.1" y1="382.6" x2="210.4" y2="382.6" stroke="#1e1e1e" stroke-width="1.3" stroke-linecap="butt"/>
<line x1="36.1" y1="512.6" x2="210.4" y2="512.6" stroke="#1e1e1e" stroke-width="1.3" stroke-linecap="butt"/>
<line x1="36.1" y1="381.95" x2="36.1" y2="513.25" stroke="#1e1e1e" stroke-width="1.3" stroke-linecap="butt"/>
<line x1="210.4" y1="381.95" x2="210.4" y2="513.25" stroke="#1e1e1e" stroke-width="1.3" stroke-linecap="butt"/>
<line x1="36.1" y1="447.3" x2="210.4" y2="447.3" stroke="#1e1e1e" stroke-width="1.15" stroke-linecap="butt"/>
<line x1="42.5" y1="382.6" x2="42.5" y2="385.5" stroke="#1e1e1e" stroke-width="1.1" stroke-linecap="butt"/>
<line x1="62.5" y1="382.6" x2="62.5" y2="385.5" stroke="#1e1e1e" stroke-width="1.1" stroke-linecap="butt"/>
<line x1="83.5" y1="382.6" x2="83.5" y2="385.5" stroke="#1e1e1e" stroke-width="1.1" stroke-linecap="butt"/>
<line x1="103.5" y1="382.6" x2="103.5" y2="385.5" stroke="#1e1e1e" stroke-width="1.1" stroke-linecap="butt"/>
<line x1="123.5" y1="382.6" x2="123.5" y2="385.5" stroke="#1e1e1e" stroke-width="1.1" stroke-linecap="butt"/>
<line x1="143.5" y1="382.6" x2="143.5" y2="385.5" stroke="#1e1e1e" stroke-width="1.1" stroke-linecap="butt"/>
<line x1="164.5" y1="382.6" x2="164.5" y2="385.5" stroke="#1e1e1e" stroke-width="1.1" stroke-linecap="butt"/>
<line x1="184.5" y1="382.6" x2="184.5" y2="385.5" stroke="#1e1e1e" stroke-width="1.1" stroke-linecap="butt"/>
<line x1="204.5" y1="382.6" x2="204.5" y2="385.5" stroke="#1e1e1e" stroke-width="1.1" stroke-linecap="butt"/>
<line x1="42.5" y1="447.3" x2="42.5" y2="445.3" stroke="#1e1e1e" stroke-width="1.1" stroke-linecap="butt"/>
<line x1="62.5" y1="447.3" x2="62.5" y2="445.3" stroke="#1e1e1e" stroke-width="1.1" stroke-linecap="butt"/>
<line x1="83.5" y1="447.3" x2="83.5" y2="445.3" stroke="#1e1e1e" stroke-width="1.1" stroke-linecap="butt"/>
<line x1="103.5" y1="447.3" x2="103.5" y2="445.3" stroke="#1e1e1e" stroke-width="1.1" stroke-linecap="butt"/>
<line x1="123.5" y1="447.3" x2="123.5" y2="445.3" stroke="#1e1e1e" stroke-width="1.1" stroke-linecap="butt"/>
<line x1="143.5" y1="447.3" x2="143.5" y2="445.3" stroke="#1e1e1e" stroke-width="1.1" stroke-linecap="butt"/>
<line x1="164.5" y1="447.3" x2="164.5" y2="445.3" stroke="#1e1e1e" stroke-width="1.1" stroke-linecap="butt"/>
<line x1="184.5" y1="447.3" x2="184.5" y2="445.3" stroke="#1e1e1e" stroke-width="1.1" stroke-linecap="butt"/>
<line x1="204.5" y1="447.3" x2="204.5" y2="445.3" stroke="#1e1e1e" stroke-width="1.1" stroke-linecap="butt"/>
<line x1="42.5" y1="512.6" x2="42.5" y2="509.7" stroke="#1e1e1e" stroke-width="1.1" stroke-linecap="butt"/>
<line x1="62.5" y1="512.6" x2="62.5" y2="509.7" stroke="#1e1e1e" stroke-width="1.1" stroke-linecap="butt"/>
<line x1="83.5" y1="512.6" x2="83.5" y2="509.7" stroke="#1e1e1e" stroke-width="1.1" stroke-linecap="butt"/>
<line x1="103.5" y1="512.6" x2="103.5" y2="509.7" stroke="#1e1e1e" stroke-width="1.1" stroke-linecap="butt"/>
<line x1="123.5" y1="512.6" x2="123.5" y2="509.7" stroke="#1e1e1e" stroke-width="1.1" stroke-linecap="butt"/>
<line x1="143.5" y1="512.6" x2="143.5" y2="509.7" stroke="#1e1e1e" stroke-width="1.1" stroke-linecap="butt"/>
<line x1="164.5" y1="512.6" x2="164.5" y2="509.7" stroke="#1e1e1e" stroke-width="1.1" stroke-linecap="butt"/>
<line x1="184.5" y1="512.6" x2="184.5" y2="509.7" stroke="#1e1e1e" stroke-width="1.1" stroke-linecap="butt"/>
<line x1="204.5" y1="512.6" x2="204.5" y2="509.7" stroke="#1e1e1e" stroke-width="1.1" stroke-linecap="butt"/>
<line x1="36.1" y1="390.5" x2="39" y2="390.5" stroke="#1e1e1e" stroke-width="1.1" stroke-linecap="butt"/>
<line x1="36.1" y1="401.5" x2="39" y2="401.5" stroke="#1e1e1e" stroke-width="1.1" stroke-linecap="butt"/>
<line x1="36.1" y1="411.5" x2="39" y2="411.5" stroke="#1e1e1e" stroke-width="1.1" stroke-linecap="butt"/>
<line x1="36.1" y1="421.5" x2="39" y2="421.5" stroke="#1e1e1e" stroke-width="1.1" stroke-linecap="butt"/>
<line x1="36.1" y1="432.5" x2="39" y2="432.5" stroke="#1e1e1e" stroke-width="1.1" stroke-linecap="butt"/>
<line x1="36.1" y1="443.5" x2="39" y2="443.5" stroke="#1e1e1e" stroke-width="1.1" stroke-linecap="butt"/>
<line x1="210.4" y1="390.5" x2="207.5" y2="390.5" stroke="#1e1e1e" stroke-width="1.1" stroke-linecap="butt"/>
<line x1="210.4" y1="401.5" x2="207.5" y2="401.5" stroke="#1e1e1e" stroke-width="1.1" stroke-linecap="butt"/>
<line x1="210.4" y1="411.5" x2="207.5" y2="411.5" stroke="#1e1e1e" stroke-width="1.1" stroke-linecap="butt"/>
<line x1="210.4" y1="421.5" x2="207.5" y2="421.5" stroke="#1e1e1e" stroke-width="1.1" stroke-linecap="butt"/>
<line x1="210.4" y1="432.5" x2="207.5" y2="432.5" stroke="#1e1e1e" stroke-width="1.1" stroke-linecap="butt"/>
<line x1="210.4" y1="443.5" x2="207.5" y2="443.5" stroke="#1e1e1e" stroke-width="1.1" stroke-linecap="butt"/>
<line x1="36.1" y1="460.5" x2="39" y2="460.5" stroke="#1e1e1e" stroke-width="1.1" stroke-linecap="butt"/>
<line x1="36.1" y1="473.5" x2="39" y2="473.5" stroke="#1e1e1e" stroke-width="1.1" stroke-linecap="butt"/>
<line x1="36.1" y1="486.5" x2="39" y2="486.5" stroke="#1e1e1e" stroke-width="1.1" stroke-linecap="butt"/>
<line x1="36.1" y1="499.5" x2="39" y2="499.5" stroke="#1e1e1e" stroke-width="1.1" stroke-linecap="butt"/>
<line x1="210.4" y1="460.5" x2="207.5" y2="460.5" stroke="#1e1e1e" stroke-width="1.1" stroke-linecap="butt"/>
<line x1="210.4" y1="473.5" x2="207.5" y2="473.5" stroke="#1e1e1e" stroke-width="1.1" stroke-linecap="butt"/>
<line x1="210.4" y1="486.5" x2="207.5" y2="486.5" stroke="#1e1e1e" stroke-width="1.1" stroke-linecap="butt"/>
<line x1="210.4" y1="499.5" x2="207.5" y2="499.5" stroke="#1e1e1e" stroke-width="1.1" stroke-linecap="butt"/>
<text x="32.9" y="395.32" font-size="10.8" fill="#1e1e1e" text-anchor="end" font-weight="normal">45</text>
<text x="32.9" y="416.42" font-size="10.8" fill="#1e1e1e" text-anchor="end" font-weight="normal">30</text>
<text x="32.9" y="438.12" font-size="10.8" fill="#1e1e1e" text-anchor="end" font-weight="normal">15</text>
<text x="32.9" y="465.22" font-size="10.8" fill="#1e1e1e" text-anchor="end" font-weight="normal">45</text>
<text x="32.9" y="491.72" font-size="10.8" fill="#1e1e1e" text-anchor="end" font-weight="normal">25</text>
<text x="32.9" y="515.12" font-size="10.8" fill="#1e1e1e" text-anchor="end" font-weight="normal">5</text>
<text x="42.1" y="524.02" font-size="10.8" fill="#1e1e1e" text-anchor="middle" font-weight="normal">0</text>
<text x="82.6" y="524.02" font-size="10.8" fill="#1e1e1e" text-anchor="middle" font-weight="normal">6</text>
<text x="125.5" y="524.02" font-size="10.8" fill="#1e1e1e" text-anchor="middle" font-weight="normal">12</text>
<text x="164.7" y="524.02" font-size="10.8" fill="#1e1e1e" text-anchor="middle" font-weight="normal">18</text>
<text x="204.2" y="524.02" font-size="10.8" fill="#1e1e1e" text-anchor="middle" font-weight="normal">24</text>
<text x="29.3" y="538" font-size="12.6" fill="#111" font-weight="bold" text-anchor="start">Pump power density (MW/cm<tspan font-size="8.82" dy="-4.2">2</tspan><tspan dy="4.2">)</tspan></text>
<text x="13.8" y="410.3" font-size="13.1" fill="#111" font-weight="bold" text-anchor="middle" transform="rotate(-90 13.8 410.3)"><tspan font-style="italic" font-size="14.67">t</tspan><tspan font-size="9.17" dy="2.6">R</tspan><tspan dy="-2.6"> (ns)</tspan></text>
<text x="13.8" y="475.9" font-size="13.1" fill="#111" font-weight="bold" text-anchor="middle" transform="rotate(-90 13.8 475.9)"><tspan font-style="italic" font-size="14.67">t</tspan><tspan font-size="9.17" dy="2.6">Delay</tspan><tspan dy="-2.6"> (ns)</tspan></text>
<text x="0.7" y="379.8" font-size="13.6" fill="#111" text-anchor="start" font-weight="bold">(g)</text>
<rect x="77.9" y="393.4" width="2" height="11.8" fill="#151515"/>
<rect x="118.95" y="393.4" width="2" height="11.8" fill="#151515"/>
<rect x="123.85" y="393.4" width="2" height="11.8" fill="#151515"/>
<line x1="288.2" y1="19.1" x2="288.2" y2="149.3" stroke="#5a5a5a" stroke-width="1.25" stroke-linecap="butt" stroke-dasharray="4.8,4.1"/>
<line x1="370.46" y1="65.56" x2="372.64" y2="63.24" stroke="#111" stroke-width="1.35" stroke-linecap="butt"/>
<line x1="393.39" y1="55.67" x2="394.61" y2="55.43" stroke="#111" stroke-width="1.35" stroke-linecap="butt"/>
<line x1="405.94" y1="52.96" x2="408.56" y2="52.34" stroke="#111" stroke-width="1.35" stroke-linecap="butt"/>
<line x1="419.99" y1="50.58" x2="425.11" y2="50.22" stroke="#111" stroke-width="1.35" stroke-linecap="butt"/>
<line x1="278.52" y1="43.7" x2="279.08" y2="58.1" stroke="#111" stroke-width="1.35" stroke-linecap="butt"/>
<line x1="285.26" y1="80.79" x2="287.24" y2="113.21" stroke="#111" stroke-width="1.35" stroke-linecap="butt"/>
<line x1="393.5" y1="119.16" x2="394.5" y2="119.14" stroke="#111" stroke-width="1.35" stroke-linecap="butt"/>
<line x1="406.1" y1="119.13" x2="408.1" y2="119.17" stroke="#111" stroke-width="1.35" stroke-linecap="butt"/>
<line x1="419.7" y1="119.44" x2="425.1" y2="119.56" stroke="#111" stroke-width="1.35" stroke-linecap="butt"/>
<circle cx="275.6" cy="143.5" r="3.7" fill="#fff" stroke="#dc3a44" stroke-width="0.95"/>
<circle cx="275.6" cy="143.5" r="0.6" fill="#dc3a44" fill-opacity="0.7"/>
<circle cx="276.3" cy="139" r="3.7" fill="#fff" stroke="#dc3a44" stroke-width="0.95"/>
<circle cx="276.3" cy="139" r="0.6" fill="#dc3a44" fill-opacity="0.7"/>
<circle cx="277.6" cy="134.9" r="3.7" fill="#fff" stroke="#dc3a44" stroke-width="0.95"/>
<circle cx="277.6" cy="134.9" r="0.6" fill="#dc3a44" fill-opacity="0.7"/>
<circle cx="279.2" cy="131.1" r="3.7" fill="#fff" stroke="#dc3a44" stroke-width="0.95"/>
<circle cx="279.2" cy="131.1" r="0.6" fill="#dc3a44" fill-opacity="0.7"/>
<circle cx="281" cy="127.6" r="3.7" fill="#fff" stroke="#dc3a44" stroke-width="0.95"/>
<circle cx="281" cy="127.6" r="0.6" fill="#dc3a44" fill-opacity="0.7"/>
<circle cx="283" cy="124.2" r="3.7" fill="#fff" stroke="#dc3a44" stroke-width="0.95"/>
<circle cx="283" cy="124.2" r="0.6" fill="#dc3a44" fill-opacity="0.7"/>
<circle cx="284.9" cy="121" r="3.7" fill="#fff" stroke="#dc3a44" stroke-width="0.95"/>
<circle cx="284.9" cy="121" r="0.6" fill="#dc3a44" fill-opacity="0.7"/>
<circle cx="287.2" cy="118" r="3.7" fill="#fff" stroke="#dc3a44" stroke-width="0.95"/>
<circle cx="287.2" cy="118" r="0.6" fill="#dc3a44" fill-opacity="0.7"/>
<circle cx="292.2" cy="111.4" r="3.7" fill="#fff" stroke="#dc3a44" stroke-width="0.95"/>
<circle cx="292.2" cy="111.4" r="0.6" fill="#dc3a44" fill-opacity="0.7"/>
<circle cx="296.8" cy="107.2" r="3.7" fill="#fff" stroke="#dc3a44" stroke-width="0.95"/>
<circle cx="296.8" cy="107.2" r="0.6" fill="#dc3a44" fill-opacity="0.7"/>
<circle cx="302" cy="102.2" r="3.7" fill="#fff" stroke="#dc3a44" stroke-width="0.95"/>
<circle cx="302" cy="102.2" r="0.6" fill="#dc3a44" fill-opacity="0.7"/>
<circle cx="309" cy="94.1" r="3.7" fill="#fff" stroke="#dc3a44" stroke-width="0.95"/>
<circle cx="309" cy="94.1" r="0.6" fill="#dc3a44" fill-opacity="0.7"/>
<circle cx="315.8" cy="92" r="3.7" fill="#fff" stroke="#dc3a44" stroke-width="0.95"/>
<circle cx="315.8" cy="92" r="0.6" fill="#dc3a44" fill-opacity="0.7"/>
<circle cx="322.9" cy="88" r="3.7" fill="#fff" stroke="#dc3a44" stroke-width="0.95"/>
<circle cx="322.9" cy="88" r="0.6" fill="#dc3a44" fill-opacity="0.7"/>
<circle cx="330.4" cy="80.8" r="3.7" fill="#fff" stroke="#dc3a44" stroke-width="0.95"/>
<circle cx="330.4" cy="80.8" r="0.6" fill="#dc3a44" fill-opacity="0.7"/>
<circle cx="338.7" cy="79.5" r="3.7" fill="#fff" stroke="#dc3a44" stroke-width="0.95"/>
<circle cx="338.7" cy="79.5" r="0.6" fill="#dc3a44" fill-opacity="0.7"/>
<circle cx="348" cy="74" r="3.7" fill="#fff" stroke="#dc3a44" stroke-width="0.95"/>
<circle cx="348" cy="74" r="0.6" fill="#dc3a44" fill-opacity="0.7"/>
<circle cx="356.1" cy="70.9" r="3.7" fill="#fff" stroke="#dc3a44" stroke-width="0.95"/>
<circle cx="356.1" cy="70.9" r="0.6" fill="#dc3a44" fill-opacity="0.7"/>
<circle cx="366.5" cy="69.8" r="3.7" fill="#fff" stroke="#dc3a44" stroke-width="0.95"/>
<circle cx="366.5" cy="69.8" r="0.6" fill="#dc3a44" fill-opacity="0.7"/>
<circle cx="376.6" cy="59" r="3.7" fill="#fff" stroke="#dc3a44" stroke-width="0.95"/>
<circle cx="376.6" cy="59" r="0.6" fill="#dc3a44" fill-opacity="0.7"/>
<circle cx="387.7" cy="56.8" r="3.7" fill="#fff" stroke="#dc3a44" stroke-width="0.95"/>
<circle cx="387.7" cy="56.8" r="0.6" fill="#dc3a44" fill-opacity="0.7"/>
<circle cx="400.3" cy="54.3" r="3.7" fill="#fff" stroke="#dc3a44" stroke-width="0.95"/>
<circle cx="400.3" cy="54.3" r="0.6" fill="#dc3a44" fill-opacity="0.7"/>
<circle cx="414.2" cy="51" r="3.7" fill="#fff" stroke="#dc3a44" stroke-width="0.95"/>
<circle cx="414.2" cy="51" r="0.6" fill="#dc3a44" fill-opacity="0.7"/>
<circle cx="430.9" cy="49.8" r="3.7" fill="#fff" stroke="#dc3a44" stroke-width="0.95"/>
<circle cx="430.9" cy="49.8" r="0.6" fill="#dc3a44" fill-opacity="0.7"/>
<circle cx="274.9" cy="32.6" r="3.7" fill="#fff" stroke="#2f2fd6" stroke-width="1"/>
<circle cx="274.9" cy="32.6" r="0.6" fill="#2f2fd6" fill-opacity="0.7"/>
<circle cx="276" cy="34.3" r="3.7" fill="#fff" stroke="#2f2fd6" stroke-width="1"/>
<circle cx="276" cy="34.3" r="0.6" fill="#2f2fd6" fill-opacity="0.7"/>
<circle cx="278.3" cy="37.9" r="3.7" fill="#fff" stroke="#2f2fd6" stroke-width="1"/>
<circle cx="278.3" cy="37.9" r="0.6" fill="#2f2fd6" fill-opacity="0.7"/>
<circle cx="279.3" cy="63.9" r="3.7" fill="#fff" stroke="#2f2fd6" stroke-width="1"/>
<circle cx="279.3" cy="63.9" r="0.6" fill="#2f2fd6" fill-opacity="0.7"/>
<circle cx="282.3" cy="68.1" r="3.7" fill="#fff" stroke="#2f2fd6" stroke-width="1"/>
<circle cx="282.3" cy="68.1" r="0.6" fill="#2f2fd6" fill-opacity="0.7"/>
<circle cx="284.9" cy="75" r="3.7" fill="#fff" stroke="#2f2fd6" stroke-width="1"/>
<circle cx="284.9" cy="75" r="0.6" fill="#2f2fd6" fill-opacity="0.7"/>
<circle cx="287.6" cy="119" r="3.7" fill="#fff" stroke="#2f2fd6" stroke-width="1"/>
<circle cx="287.6" cy="119" r="0.6" fill="#2f2fd6" fill-opacity="0.7"/>
<circle cx="290.4" cy="121.5" r="3.7" fill="#fff" stroke="#2f2fd6" stroke-width="1"/>
<circle cx="290.4" cy="121.5" r="0.6" fill="#2f2fd6" fill-opacity="0.7"/>
<circle cx="293.1" cy="121.5" r="3.7" fill="#fff" stroke="#2f2fd6" stroke-width="1"/>
<circle cx="293.1" cy="121.5" r="0.6" fill="#2f2fd6" fill-opacity="0.7"/>
<circle cx="296.8" cy="121.2" r="3.7" fill="#fff" stroke="#2f2fd6" stroke-width="1"/>
<circle cx="296.8" cy="121.2" r="0.6" fill="#2f2fd6" fill-opacity="0.7"/>
<circle cx="302" cy="121.2" r="3.7" fill="#fff" stroke="#2f2fd6" stroke-width="1"/>
<circle cx="302" cy="121.2" r="0.6" fill="#2f2fd6" fill-opacity="0.7"/>
<circle cx="309" cy="121.6" r="3.7" fill="#fff" stroke="#2f2fd6" stroke-width="1"/>
<circle cx="309" cy="121.6" r="0.6" fill="#2f2fd6" fill-opacity="0.7"/>
<circle cx="315.8" cy="121.2" r="3.7" fill="#fff" stroke="#2f2fd6" stroke-width="1"/>
<circle cx="315.8" cy="121.2" r="0.6" fill="#2f2fd6" fill-opacity="0.7"/>
<circle cx="322.9" cy="121" r="3.7" fill="#fff" stroke="#2f2fd6" stroke-width="1"/>
<circle cx="322.9" cy="121" r="0.6" fill="#2f2fd6" fill-opacity="0.7"/>
<circle cx="330.4" cy="121" r="3.7" fill="#fff" stroke="#2f2fd6" stroke-width="1"/>
<circle cx="330.4" cy="121" r="0.6" fill="#2f2fd6" fill-opacity="0.7"/>
<circle cx="338.7" cy="121" r="3.7" fill="#fff" stroke="#2f2fd6" stroke-width="1"/>
<circle cx="338.7" cy="121" r="0.6" fill="#2f2fd6" fill-opacity="0.7"/>
<circle cx="348" cy="120.4" r="3.7" fill="#fff" stroke="#2f2fd6" stroke-width="1"/>
<circle cx="348" cy="120.4" r="0.6" fill="#2f2fd6" fill-opacity="0.7"/>
<circle cx="356.1" cy="120.3" r="3.7" fill="#fff" stroke="#2f2fd6" stroke-width="1"/>
<circle cx="356.1" cy="120.3" r="0.6" fill="#2f2fd6" fill-opacity="0.7"/>
<circle cx="366.5" cy="120" r="3.7" fill="#fff" stroke="#2f2fd6" stroke-width="1"/>
<circle cx="366.5" cy="120" r="0.6" fill="#2f2fd6" fill-opacity="0.7"/>
<circle cx="376.6" cy="120.4" r="3.7" fill="#fff" stroke="#2f2fd6" stroke-width="1"/>
<circle cx="376.6" cy="120.4" r="0.6" fill="#2f2fd6" fill-opacity="0.7"/>
<circle cx="387.7" cy="119.3" r="3.7" fill="#fff" stroke="#2f2fd6" stroke-width="1"/>
<circle cx="387.7" cy="119.3" r="0.6" fill="#2f2fd6" fill-opacity="0.7"/>
<circle cx="400.3" cy="119" r="3.7" fill="#fff" stroke="#2f2fd6" stroke-width="1"/>
<circle cx="400.3" cy="119" r="0.6" fill="#2f2fd6" fill-opacity="0.7"/>
<circle cx="413.9" cy="119.3" r="3.7" fill="#fff" stroke="#2f2fd6" stroke-width="1"/>
<circle cx="413.9" cy="119.3" r="0.6" fill="#2f2fd6" fill-opacity="0.7"/>
<circle cx="430.9" cy="119.7" r="3.7" fill="#fff" stroke="#2f2fd6" stroke-width="1"/>
<circle cx="430.9" cy="119.7" r="0.6" fill="#2f2fd6" fill-opacity="0.7"/>
<line x1="267.1" y1="19.1" x2="441.6" y2="19.1" stroke="#1e1e1e" stroke-width="1.3" stroke-linecap="butt"/>
<line x1="267.1" y1="149.3" x2="441.6" y2="149.3" stroke="#1e1e1e" stroke-width="1.3" stroke-linecap="butt"/>
<line x1="267.1" y1="18.45" x2="267.1" y2="149.95" stroke="#da2129" stroke-width="1.3" stroke-linecap="butt"/>
<line x1="441.6" y1="18.45" x2="441.6" y2="149.95" stroke="#2f2fd0" stroke-width="1.3" stroke-linecap="butt"/>
<line x1="275.5" y1="19.1" x2="275.5" y2="22" stroke="#1e1e1e" stroke-width="1.1" stroke-linecap="butt"/>
<line x1="296.5" y1="19.1" x2="296.5" y2="22" stroke="#1e1e1e" stroke-width="1.1" stroke-linecap="butt"/>
<line x1="316.5" y1="19.1" x2="316.5" y2="22" stroke="#1e1e1e" stroke-width="1.1" stroke-linecap="butt"/>
<line x1="337.5" y1="19.1" x2="337.5" y2="22" stroke="#1e1e1e" stroke-width="1.1" stroke-linecap="butt"/>
<line x1="358.5" y1="19.1" x2="358.5" y2="22" stroke="#1e1e1e" stroke-width="1.1" stroke-linecap="butt"/>
<line x1="379.5" y1="19.1" x2="379.5" y2="22" stroke="#1e1e1e" stroke-width="1.1" stroke-linecap="butt"/>
<line x1="400.5" y1="19.1" x2="400.5" y2="22" stroke="#1e1e1e" stroke-width="1.1" stroke-linecap="butt"/>
<line x1="420.5" y1="19.1" x2="420.5" y2="22" stroke="#1e1e1e" stroke-width="1.1" stroke-linecap="butt"/>
<line x1="275.5" y1="149.3" x2="275.5" y2="146.4" stroke="#1e1e1e" stroke-width="1.1" stroke-linecap="butt"/>
<line x1="296.5" y1="149.3" x2="296.5" y2="146.4" stroke="#1e1e1e" stroke-width="1.1" stroke-linecap="butt"/>
<line x1="316.5" y1="149.3" x2="316.5" y2="146.4" stroke="#1e1e1e" stroke-width="1.1" stroke-linecap="butt"/>
<line x1="337.5" y1="149.3" x2="337.5" y2="146.4" stroke="#1e1e1e" stroke-width="1.1" stroke-linecap="butt"/>
<line x1="358.5" y1="149.3" x2="358.5" y2="146.4" stroke="#1e1e1e" stroke-width="1.1" stroke-linecap="butt"/>
<line x1="379.5" y1="149.3" x2="379.5" y2="146.4" stroke="#1e1e1e" stroke-width="1.1" stroke-linecap="butt"/>
<line x1="400.5" y1="149.3" x2="400.5" y2="146.4" stroke="#1e1e1e" stroke-width="1.1" stroke-linecap="butt"/>
<line x1="420.5" y1="149.3" x2="420.5" y2="146.4" stroke="#1e1e1e" stroke-width="1.1" stroke-linecap="butt"/>
<line x1="267.1" y1="26.5" x2="270" y2="26.5" stroke="#da2129" stroke-width="1.1" stroke-linecap="butt"/>
<line x1="267.1" y1="46.5" x2="270" y2="46.5" stroke="#da2129" stroke-width="1.1" stroke-linecap="butt"/>
<line x1="267.1" y1="66.5" x2="270" y2="66.5" stroke="#da2129" stroke-width="1.1" stroke-linecap="butt"/>
<line x1="267.1" y1="85.5" x2="270" y2="85.5" stroke="#da2129" stroke-width="1.1" stroke-linecap="butt"/>
<line x1="267.1" y1="105.5" x2="270" y2="105.5" stroke="#da2129" stroke-width="1.1" stroke-linecap="butt"/>
<line x1="267.1" y1="124.5" x2="270" y2="124.5" stroke="#da2129" stroke-width="1.1" stroke-linecap="butt"/>
<line x1="267.1" y1="144.5" x2="270" y2="144.5" stroke="#da2129" stroke-width="1.1" stroke-linecap="butt"/>
<line x1="441.6" y1="29.5" x2="438.7" y2="29.5" stroke="#2f2fd0" stroke-width="1.1" stroke-linecap="butt"/>
<line x1="441.6" y1="46.5" x2="438.7" y2="46.5" stroke="#2f2fd0" stroke-width="1.1" stroke-linecap="butt"/>
<line x1="441.6" y1="62.5" x2="438.7" y2="62.5" stroke="#2f2fd0" stroke-width="1.1" stroke-linecap="butt"/>
<line x1="441.6" y1="78.5" x2="438.7" y2="78.5" stroke="#2f2fd0" stroke-width="1.1" stroke-linecap="butt"/>
<line x1="441.6" y1="95.5" x2="438.7" y2="95.5" stroke="#2f2fd0" stroke-width="1.1" stroke-linecap="butt"/>
<line x1="441.6" y1="111.5" x2="438.7" y2="111.5" stroke="#2f2fd0" stroke-width="1.1" stroke-linecap="butt"/>
<line x1="441.6" y1="127.5" x2="438.7" y2="127.5" stroke="#2f2fd0" stroke-width="1.1" stroke-linecap="butt"/>
<line x1="441.6" y1="143.5" x2="438.7" y2="143.5" stroke="#2f2fd0" stroke-width="1.1" stroke-linecap="butt"/>
<text x="263.6" y="31.02" font-size="10.8" fill="#da2129" text-anchor="end" font-weight="normal">75k</text>
<text x="263.6" y="70.22" font-size="10.8" fill="#da2129" text-anchor="end" font-weight="normal">50k</text>
<text x="263.6" y="109.42" font-size="10.8" fill="#da2129" text-anchor="end" font-weight="normal">25k</text>
<text x="263.6" y="149.92" font-size="10.8" fill="#da2129" text-anchor="end" font-weight="normal">0</text>
<text x="445.7" y="35.32" font-size="10.8" fill="#2f2fd0" text-anchor="start" font-weight="normal">45</text>
<text x="445.7" y="67.42" font-size="10.8" fill="#2f2fd0" text-anchor="start" font-weight="normal">30</text>
<text x="445.7" y="99.42" font-size="10.8" fill="#2f2fd0" text-anchor="start" font-weight="normal">15</text>
<text x="445.7" y="132.62" font-size="10.8" fill="#2f2fd0" text-anchor="start" font-weight="normal">0</text>
<text x="275.1" y="162.12" font-size="10.8" fill="#1e1e1e" text-anchor="middle" font-weight="normal">0</text>
<text x="316.9" y="162.12" font-size="10.8" fill="#1e1e1e" text-anchor="middle" font-weight="normal">5</text>
<text x="359.8" y="162.12" font-size="10.8" fill="#1e1e1e" text-anchor="middle" font-weight="normal">10</text>
<text x="401" y="162.12" font-size="10.8" fill="#1e1e1e" text-anchor="middle" font-weight="normal">15</text>
<text x="442.4" y="162.12" font-size="10.8" fill="#1e1e1e" text-anchor="middle" font-weight="normal">20</text>
<text x="270" y="174.8" font-size="12.6" fill="#111" font-weight="bold" text-anchor="start">Pump power density (MW/cm<tspan font-size="8.82" dy="-4.2">2</tspan><tspan dy="4.2">)</tspan></text>
<text x="243.6" y="87.9" font-size="13.1" fill="#da2129" text-anchor="middle" font-weight="bold" transform="rotate(-90 243.6 87.9)">Intensity (a.u.)</text>
<text x="470.2" y="93.4" font-size="13.1" fill="#2f2fd0" text-anchor="middle" font-weight="bold" transform="rotate(-90 470.2 93.4)">Linewidth (nm)</text>
<text x="239" y="12.3" font-size="13.6" fill="#111" text-anchor="start" font-weight="bold">(b)</text>
<line x1="297.7" y1="204.2" x2="297.7" y2="333.8" stroke="#5a5a5a" stroke-width="1.25" stroke-linecap="butt" stroke-dasharray="4.8,4.1"/>
<line x1="325.43" y1="307.74" x2="325.77" y2="307.36" stroke="#111" stroke-width="1.35" stroke-linecap="butt"/>
<line x1="359.64" y1="280.59" x2="360.86" y2="279.61" stroke="#111" stroke-width="1.35" stroke-linecap="butt"/>
<line x1="369.69" y1="272.1" x2="371.11" y2="270.8" stroke="#111" stroke-width="1.35" stroke-linecap="butt"/>
<line x1="378.99" y1="262.34" x2="382.91" y2="257.36" stroke="#111" stroke-width="1.35" stroke-linecap="butt"/>
<line x1="390.73" y1="248.84" x2="394.87" y2="244.96" stroke="#111" stroke-width="1.35" stroke-linecap="butt"/>
<line x1="403.87" y1="237.7" x2="407.93" y2="234.9" stroke="#111" stroke-width="1.35" stroke-linecap="butt"/>
<line x1="418.17" y1="229.67" x2="423.93" y2="227.63" stroke="#111" stroke-width="1.35" stroke-linecap="butt"/>
<line x1="287.86" y1="230.19" x2="290.44" y2="288.91" stroke="#111" stroke-width="1.35" stroke-linecap="butt"/>
<line x1="291.74" y1="300.41" x2="294.96" y2="317.99" stroke="#111" stroke-width="1.35" stroke-linecap="butt"/>
<line x1="392.3" y1="323.7" x2="393.3" y2="323.7" stroke="#111" stroke-width="1.35" stroke-linecap="butt"/>
<line x1="404.9" y1="323.7" x2="406.9" y2="323.7" stroke="#111" stroke-width="1.35" stroke-linecap="butt"/>
<line x1="418.5" y1="323.7" x2="423.6" y2="323.7" stroke="#111" stroke-width="1.35" stroke-linecap="butt"/>
<circle cx="274" cy="329" r="3.7" fill="#fff" stroke="#dc3a44" stroke-width="0.95"/>
<circle cx="274" cy="329" r="0.6" fill="#dc3a44" fill-opacity="0.7"/>
<circle cx="275.3" cy="328.3" r="3.7" fill="#fff" stroke="#dc3a44" stroke-width="0.95"/>
<circle cx="275.3" cy="328.3" r="0.6" fill="#dc3a44" fill-opacity="0.7"/>
<circle cx="277.3" cy="327.7" r="3.7" fill="#fff" stroke="#dc3a44" stroke-width="0.95"/>
<circle cx="277.3" cy="327.7" r="0.6" fill="#dc3a44" fill-opacity="0.7"/>
<circle cx="279.7" cy="326.7" r="3.7" fill="#fff" stroke="#dc3a44" stroke-width="0.95"/>
<circle cx="279.7" cy="326.7" r="0.6" fill="#dc3a44" fill-opacity="0.7"/>
<circle cx="282.7" cy="325.7" r="3.7" fill="#fff" stroke="#dc3a44" stroke-width="0.95"/>
<circle cx="282.7" cy="325.7" r="0.6" fill="#dc3a44" fill-opacity="0.7"/>
<circle cx="286" cy="324.6" r="3.7" fill="#fff" stroke="#dc3a44" stroke-width="0.95"/>
<circle cx="286" cy="324.6" r="0.6" fill="#dc3a44" fill-opacity="0.7"/>
<circle cx="290" cy="323.7" r="3.7" fill="#fff" stroke="#dc3a44" stroke-width="0.95"/>
<circle cx="290" cy="323.7" r="0.6" fill="#dc3a44" fill-opacity="0.7"/>
<circle cx="294.7" cy="322.3" r="3.7" fill="#fff" stroke="#dc3a44" stroke-width="0.95"/>
<circle cx="294.7" cy="322.3" r="0.6" fill="#dc3a44" fill-opacity="0.7"/>
<circle cx="300.7" cy="320.3" r="3.7" fill="#fff" stroke="#dc3a44" stroke-width="0.95"/>
<circle cx="300.7" cy="320.3" r="0.6" fill="#dc3a44" fill-opacity="0.7"/>
<circle cx="308" cy="319.7" r="3.7" fill="#fff" stroke="#dc3a44" stroke-width="0.95"/>
<circle cx="308" cy="319.7" r="0.6" fill="#dc3a44" fill-opacity="0.7"/>
<circle cx="314.9" cy="317" r="3.7" fill="#fff" stroke="#dc3a44" stroke-width="0.95"/>
<circle cx="314.9" cy="317" r="0.6" fill="#dc3a44" fill-opacity="0.7"/>
<circle cx="321.6" cy="312.1" r="3.7" fill="#fff" stroke="#dc3a44" stroke-width="0.95"/>
<circle cx="321.6" cy="312.1" r="0.6" fill="#dc3a44" fill-opacity="0.7"/>
<circle cx="329.6" cy="303" r="3.7" fill="#fff" stroke="#dc3a44" stroke-width="0.95"/>
<circle cx="329.6" cy="303" r="0.6" fill="#dc3a44" fill-opacity="0.7"/>
<circle cx="337.7" cy="295.4" r="3.7" fill="#fff" stroke="#dc3a44" stroke-width="0.95"/>
<circle cx="337.7" cy="295.4" r="0.6" fill="#dc3a44" fill-opacity="0.7"/>
<circle cx="346.8" cy="288.2" r="3.7" fill="#fff" stroke="#dc3a44" stroke-width="0.95"/>
<circle cx="346.8" cy="288.2" r="0.6" fill="#dc3a44" fill-opacity="0.7"/>
<circle cx="355.1" cy="284.2" r="3.7" fill="#fff" stroke="#dc3a44" stroke-width="0.95"/>
<circle cx="355.1" cy="284.2" r="0.6" fill="#dc3a44" fill-opacity="0.7"/>
<circle cx="365.4" cy="276" r="3.7" fill="#fff" stroke="#dc3a44" stroke-width="0.95"/>
<circle cx="365.4" cy="276" r="0.6" fill="#dc3a44" fill-opacity="0.7"/>
<circle cx="375.4" cy="266.9" r="3.7" fill="#fff" stroke="#dc3a44" stroke-width="0.95"/>
<circle cx="375.4" cy="266.9" r="0.6" fill="#dc3a44" fill-opacity="0.7"/>
<circle cx="386.5" cy="252.8" r="3.7" fill="#fff" stroke="#dc3a44" stroke-width="0.95"/>
<circle cx="386.5" cy="252.8" r="0.6" fill="#dc3a44" fill-opacity="0.7"/>
<circle cx="399.1" cy="241" r="3.7" fill="#fff" stroke="#dc3a44" stroke-width="0.95"/>
<circle cx="399.1" cy="241" r="0.6" fill="#dc3a44" fill-opacity="0.7"/>
<circle cx="412.7" cy="231.6" r="3.7" fill="#fff" stroke="#dc3a44" stroke-width="0.95"/>
<circle cx="412.7" cy="231.6" r="0.6" fill="#dc3a44" fill-opacity="0.7"/>
<circle cx="429.4" cy="225.7" r="3.7" fill="#fff" stroke="#dc3a44" stroke-width="0.95"/>
<circle cx="429.4" cy="225.7" r="0.6" fill="#dc3a44" fill-opacity="0.7"/>
<circle cx="274" cy="221.7" r="3.7" fill="#fff" stroke="#2f2fd6" stroke-width="1"/>
<circle cx="274" cy="221.7" r="0.6" fill="#2f2fd6" fill-opacity="0.7"/>
<circle cx="276" cy="222" r="3.7" fill="#fff" stroke="#2f2fd6" stroke-width="1"/>
<circle cx="276" cy="222" r="0.6" fill="#2f2fd6" fill-opacity="0.7"/>
<circle cx="278" cy="222.3" r="3.7" fill="#fff" stroke="#2f2fd6" stroke-width="1"/>
<circle cx="278" cy="222.3" r="0.6" fill="#2f2fd6" fill-opacity="0.7"/>
<circle cx="280.4" cy="222.7" r="3.7" fill="#fff" stroke="#2f2fd6" stroke-width="1"/>
<circle cx="280.4" cy="222.7" r="0.6" fill="#2f2fd6" fill-opacity="0.7"/>
<circle cx="283.1" cy="223.6" r="3.7" fill="#fff" stroke="#2f2fd6" stroke-width="1"/>
<circle cx="283.1" cy="223.6" r="0.6" fill="#2f2fd6" fill-opacity="0.7"/>
<circle cx="287.6" cy="224.4" r="3.7" fill="#fff" stroke="#2f2fd6" stroke-width="1"/>
<circle cx="287.6" cy="224.4" r="0.6" fill="#2f2fd6" fill-opacity="0.7"/>
<circle cx="290.7" cy="294.7" r="3.7" fill="#fff" stroke="#2f2fd6" stroke-width="1"/>
<circle cx="290.7" cy="294.7" r="0.6" fill="#2f2fd6" fill-opacity="0.7"/>
<circle cx="296" cy="323.7" r="3.7" fill="#fff" stroke="#2f2fd6" stroke-width="1"/>
<circle cx="296" cy="323.7" r="0.6" fill="#2f2fd6" fill-opacity="0.7"/>
<circle cx="300.7" cy="323.7" r="3.7" fill="#fff" stroke="#2f2fd6" stroke-width="1"/>
<circle cx="300.7" cy="323.7" r="0.6" fill="#2f2fd6" fill-opacity="0.7"/>
<circle cx="307.7" cy="323.9" r="3.7" fill="#fff" stroke="#2f2fd6" stroke-width="1"/>
<circle cx="307.7" cy="323.9" r="0.6" fill="#2f2fd6" fill-opacity="0.7"/>
<circle cx="314.9" cy="323.9" r="3.7" fill="#fff" stroke="#2f2fd6" stroke-width="1"/>
<circle cx="314.9" cy="323.9" r="0.6" fill="#2f2fd6" fill-opacity="0.7"/>
<circle cx="321.7" cy="323.9" r="3.7" fill="#fff" stroke="#2f2fd6" stroke-width="1"/>
<circle cx="321.7" cy="323.9" r="0.6" fill="#2f2fd6" fill-opacity="0.7"/>
<circle cx="329.3" cy="323.9" r="3.7" fill="#fff" stroke="#2f2fd6" stroke-width="1"/>
<circle cx="329.3" cy="323.9" r="0.6" fill="#2f2fd6" fill-opacity="0.7"/>
<circle cx="337.6" cy="323.9" r="3.7" fill="#fff" stroke="#2f2fd6" stroke-width="1"/>
<circle cx="337.6" cy="323.9" r="0.6" fill="#2f2fd6" fill-opacity="0.7"/>
<circle cx="346.8" cy="323.7" r="3.7" fill="#fff" stroke="#2f2fd6" stroke-width="1"/>
<circle cx="346.8" cy="323.7" r="0.6" fill="#2f2fd6" fill-opacity="0.7"/>
<circle cx="355.1" cy="323.7" r="3.7" fill="#fff" stroke="#2f2fd6" stroke-width="1"/>
<circle cx="355.1" cy="323.7" r="0.6" fill="#2f2fd6" fill-opacity="0.7"/>
<circle cx="365.4" cy="323.7" r="3.7" fill="#fff" stroke="#2f2fd6" stroke-width="1"/>
<circle cx="365.4" cy="323.7" r="0.6" fill="#2f2fd6" fill-opacity="0.7"/>
<circle cx="375.4" cy="323.4" r="3.7" fill="#fff" stroke="#2f2fd6" stroke-width="1"/>
<circle cx="375.4" cy="323.4" r="0.6" fill="#2f2fd6" fill-opacity="0.7"/>
<circle cx="386.5" cy="323.7" r="3.7" fill="#fff" stroke="#2f2fd6" stroke-width="1"/>
<circle cx="386.5" cy="323.7" r="0.6" fill="#2f2fd6" fill-opacity="0.7"/>
<circle cx="399.1" cy="323.7" r="3.7" fill="#fff" stroke="#2f2fd6" stroke-width="1"/>
<circle cx="399.1" cy="323.7" r="0.6" fill="#2f2fd6" fill-opacity="0.7"/>
<circle cx="412.7" cy="323.7" r="3.7" fill="#fff" stroke="#2f2fd6" stroke-width="1"/>
<circle cx="412.7" cy="323.7" r="0.6" fill="#2f2fd6" fill-opacity="0.7"/>
<circle cx="429.4" cy="323.7" r="3.7" fill="#fff" stroke="#2f2fd6" stroke-width="1"/>
<circle cx="429.4" cy="323.7" r="0.6" fill="#2f2fd6" fill-opacity="0.7"/>
<line x1="265.8" y1="204.2" x2="440.1" y2="204.2" stroke="#1e1e1e" stroke-width="1.3" stroke-linecap="butt"/>
<line x1="265.8" y1="333.8" x2="440.1" y2="333.8" stroke="#1e1e1e" stroke-width="1.3" stroke-linecap="butt"/>
<line x1="265.8" y1="203.55" x2="265.8" y2="334.45" stroke="#da2129" stroke-width="1.3" stroke-linecap="butt"/>
<line x1="440.1" y1="203.55" x2="440.1" y2="334.45" stroke="#2f2fd0" stroke-width="1.3" stroke-linecap="butt"/>
<line x1="274.5" y1="204.2" x2="274.5" y2="207.1" stroke="#1e1e1e" stroke-width="1.1" stroke-linecap="butt"/>
<line x1="286.5" y1="204.2" x2="286.5" y2="207.1" stroke="#1e1e1e" stroke-width="1.1" stroke-linecap="butt"/>
<line x1="298.5" y1="204.2" x2="298.5" y2="207.1" stroke="#1e1e1e" stroke-width="1.1" stroke-linecap="butt"/>
<line x1="311.5" y1="204.2" x2="311.5" y2="207.1" stroke="#1e1e1e" stroke-width="1.1" stroke-linecap="butt"/>
<line x1="323.5" y1="204.2" x2="323.5" y2="207.1" stroke="#1e1e1e" stroke-width="1.1" stroke-linecap="butt"/>
<line x1="336.5" y1="204.2" x2="336.5" y2="207.1" stroke="#1e1e1e" stroke-width="1.1" stroke-linecap="butt"/>
<line x1="348.5" y1="204.2" x2="348.5" y2="207.1" stroke="#1e1e1e" stroke-width="1.1" stroke-linecap="butt"/>
<line x1="361.5" y1="204.2" x2="361.5" y2="207.1" stroke="#1e1e1e" stroke-width="1.1" stroke-linecap="butt"/>
<line x1="373.5" y1="204.2" x2="373.5" y2="207.1" stroke="#1e1e1e" stroke-width="1.1" stroke-linecap="butt"/>
<line x1="386.5" y1="204.2" x2="386.5" y2="207.1" stroke="#1e1e1e" stroke-width="1.1" stroke-linecap="butt"/>
<line x1="398.5" y1="204.2" x2="398.5" y2="207.1" stroke="#1e1e1e" stroke-width="1.1" stroke-linecap="butt"/>
<line x1="411.5" y1="204.2" x2="411.5" y2="207.1" stroke="#1e1e1e" stroke-width="1.1" stroke-linecap="butt"/>
<line x1="423.5" y1="204.2" x2="423.5" y2="207.1" stroke="#1e1e1e" stroke-width="1.1" stroke-linecap="butt"/>
<line x1="435.5" y1="204.2" x2="435.5" y2="207.1" stroke="#1e1e1e" stroke-width="1.1" stroke-linecap="butt"/>
<line x1="274.5" y1="333.8" x2="274.5" y2="330.9" stroke="#1e1e1e" stroke-width="1.1" stroke-linecap="butt"/>
<line x1="294.5" y1="333.8" x2="294.5" y2="330.9" stroke="#1e1e1e" stroke-width="1.1" stroke-linecap="butt"/>
<line x1="315.5" y1="333.8" x2="315.5" y2="330.9" stroke="#1e1e1e" stroke-width="1.1" stroke-linecap="butt"/>
<line x1="336.5" y1="333.8" x2="336.5" y2="330.9" stroke="#1e1e1e" stroke-width="1.1" stroke-linecap="butt"/>
<line x1="357.5" y1="333.8" x2="357.5" y2="330.9" stroke="#1e1e1e" stroke-width="1.1" stroke-linecap="butt"/>
<line x1="377.5" y1="333.8" x2="377.5" y2="330.9" stroke="#1e1e1e" stroke-width="1.1" stroke-linecap="butt"/>
<line x1="398.5" y1="333.8" x2="398.5" y2="330.9" stroke="#1e1e1e" stroke-width="1.1" stroke-linecap="butt"/>
<line x1="419.5" y1="333.8" x2="419.5" y2="330.9" stroke="#1e1e1e" stroke-width="1.1" stroke-linecap="butt"/>
<line x1="265.8" y1="223.5" x2="268.7" y2="223.5" stroke="#da2129" stroke-width="1.1" stroke-linecap="butt"/>
<line x1="265.8" y1="240.5" x2="268.7" y2="240.5" stroke="#da2129" stroke-width="1.1" stroke-linecap="butt"/>
<line x1="265.8" y1="258.5" x2="268.7" y2="258.5" stroke="#da2129" stroke-width="1.1" stroke-linecap="butt"/>
<line x1="265.8" y1="276.5" x2="268.7" y2="276.5" stroke="#da2129" stroke-width="1.1" stroke-linecap="butt"/>
<line x1="265.8" y1="293.5" x2="268.7" y2="293.5" stroke="#da2129" stroke-width="1.1" stroke-linecap="butt"/>
<line x1="265.8" y1="311.5" x2="268.7" y2="311.5" stroke="#da2129" stroke-width="1.1" stroke-linecap="butt"/>
<line x1="265.8" y1="329.5" x2="268.7" y2="329.5" stroke="#da2129" stroke-width="1.1" stroke-linecap="butt"/>
<line x1="440.1" y1="213.5" x2="437.2" y2="213.5" stroke="#2f2fd0" stroke-width="1.1" stroke-linecap="butt"/>
<line x1="440.1" y1="232.5" x2="437.2" y2="232.5" stroke="#2f2fd0" stroke-width="1.1" stroke-linecap="butt"/>
<line x1="440.1" y1="250.5" x2="437.2" y2="250.5" stroke="#2f2fd0" stroke-width="1.1" stroke-linecap="butt"/>
<line x1="440.1" y1="269.5" x2="437.2" y2="269.5" stroke="#2f2fd0" stroke-width="1.1" stroke-linecap="butt"/>
<line x1="440.1" y1="288.5" x2="437.2" y2="288.5" stroke="#2f2fd0" stroke-width="1.1" stroke-linecap="butt"/>
<line x1="440.1" y1="306.5" x2="437.2" y2="306.5" stroke="#2f2fd0" stroke-width="1.1" stroke-linecap="butt"/>
<line x1="440.1" y1="325.5" x2="437.2" y2="325.5" stroke="#2f2fd0" stroke-width="1.1" stroke-linecap="butt"/>
<text x="262.3" y="225.52" font-size="10.8" fill="#da2129" text-anchor="end" font-weight="normal">240k</text>
<text x="262.3" y="260.92" font-size="10.8" fill="#da2129" text-anchor="end" font-weight="normal">160k</text>
<text x="262.3" y="297.12" font-size="10.8" fill="#da2129" text-anchor="end" font-weight="normal">80k</text>
<text x="262.3" y="330.52" font-size="10.8" fill="#da2129" text-anchor="end" font-weight="normal">0</text>
<text x="445.4" y="216.82" font-size="10.8" fill="#2f2fd0" text-anchor="start" font-weight="normal">60</text>
<text x="445.4" y="254.12" font-size="10.8" fill="#2f2fd0" text-anchor="start" font-weight="normal">40</text>
<text x="445.4" y="292.12" font-size="10.8" fill="#2f2fd0" text-anchor="start" font-weight="normal">20</text>
<text x="445.4" y="329.62" font-size="10.8" fill="#2f2fd0" text-anchor="start" font-weight="normal">0</text>
<text x="274.3" y="345.92" font-size="10.8" fill="#1e1e1e" text-anchor="middle" font-weight="normal">0</text>
<text x="315.7" y="345.92" font-size="10.8" fill="#1e1e1e" text-anchor="middle" font-weight="normal">5</text>
<text x="358.4" y="345.92" font-size="10.8" fill="#1e1e1e" text-anchor="middle" font-weight="normal">10</text>
<text x="399.9" y="345.92" font-size="10.8" fill="#1e1e1e" text-anchor="middle" font-weight="normal">15</text>
<text x="441.2" y="345.92" font-size="10.8" fill="#1e1e1e" text-anchor="middle" font-weight="normal">20</text>
<text x="268.5" y="358.5" font-size="12.6" fill="#111" font-weight="bold" text-anchor="start">Pump power density (MW/cm<tspan font-size="8.82" dy="-4.2">2</tspan><tspan dy="4.2">)</tspan></text>
<text x="234.7" y="273.4" font-size="13.1" fill="#da2129" text-anchor="middle" font-weight="bold" transform="rotate(-90 234.7 273.4)">Intensity (a.u.)</text>
<text x="470.2" y="276.8" font-size="13.1" fill="#2f2fd0" text-anchor="middle" font-weight="bold" transform="rotate(-90 470.2 276.8)">Linewidth (nm)</text>
<text x="239" y="199.5" font-size="13.6" fill="#111" text-anchor="start" font-weight="bold">(e)</text>
<line x1="292.5" y1="384.3" x2="292.5" y2="513.6" stroke="#5a5a5a" stroke-width="1.25" stroke-linecap="butt" stroke-dasharray="4.8,4.1"/>
<line x1="349.3" y1="384.3" x2="349.3" y2="513.6" stroke="#2e2e2e" stroke-width="1.1" stroke-linecap="butt" stroke-dasharray="1.3,1.37"/>
<line x1="343.11" y1="457.55" x2="343.49" y2="457.25" stroke="#111" stroke-width="1.35" stroke-linecap="butt"/>
<line x1="380.38" y1="432.68" x2="384.02" y2="428.82" stroke="#111" stroke-width="1.35" stroke-linecap="butt"/>
<line x1="393.45" y1="422.62" x2="394.65" y2="422.18" stroke="#111" stroke-width="1.35" stroke-linecap="butt"/>
<line x1="404.93" y1="416.98" x2="409.07" y2="414.22" stroke="#111" stroke-width="1.35" stroke-linecap="butt"/>
<line x1="419.11" y1="408.46" x2="425.69" y2="405.24" stroke="#111" stroke-width="1.35" stroke-linecap="butt"/>
<line x1="276.24" y1="403.08" x2="276.86" y2="411.42" stroke="#111" stroke-width="1.35" stroke-linecap="butt"/>
<line x1="288.8" y1="439.29" x2="291.1" y2="473.11" stroke="#111" stroke-width="1.35" stroke-linecap="butt"/>
<line x1="393.5" y1="490.7" x2="394.3" y2="490.7" stroke="#111" stroke-width="1.35" stroke-linecap="butt"/>
<line x1="405.9" y1="490.7" x2="408.1" y2="490.7" stroke="#111" stroke-width="1.35" stroke-linecap="butt"/>
<line x1="419.7" y1="490.7" x2="425.1" y2="490.7" stroke="#111" stroke-width="1.35" stroke-linecap="butt"/>
<circle cx="274.9" cy="502.9" r="3.7" fill="#fff" stroke="#dc3a44" stroke-width="0.95"/>
<circle cx="274.9" cy="502.9" r="0.6" fill="#dc3a44" fill-opacity="0.7"/>
<circle cx="276.1" cy="500.9" r="3.7" fill="#fff" stroke="#dc3a44" stroke-width="0.95"/>
<circle cx="276.1" cy="500.9" r="0.6" fill="#dc3a44" fill-opacity="0.7"/>
<circle cx="277.7" cy="498" r="3.7" fill="#fff" stroke="#dc3a44" stroke-width="0.95"/>
<circle cx="277.7" cy="498" r="0.6" fill="#dc3a44" fill-opacity="0.7"/>
<circle cx="279.4" cy="494.3" r="3.7" fill="#fff" stroke="#dc3a44" stroke-width="0.95"/>
<circle cx="279.4" cy="494.3" r="0.6" fill="#dc3a44" fill-opacity="0.7"/>
<circle cx="281.9" cy="491.7" r="3.7" fill="#fff" stroke="#dc3a44" stroke-width="0.95"/>
<circle cx="281.9" cy="491.7" r="0.6" fill="#dc3a44" fill-opacity="0.7"/>
<circle cx="284.4" cy="488.8" r="3.7" fill="#fff" stroke="#dc3a44" stroke-width="0.95"/>
<circle cx="284.4" cy="488.8" r="0.6" fill="#dc3a44" fill-opacity="0.7"/>
<circle cx="287.7" cy="486" r="3.7" fill="#fff" stroke="#dc3a44" stroke-width="0.95"/>
<circle cx="287.7" cy="486" r="0.6" fill="#dc3a44" fill-opacity="0.7"/>
<circle cx="291" cy="483.4" r="3.7" fill="#fff" stroke="#dc3a44" stroke-width="0.95"/>
<circle cx="291" cy="483.4" r="0.6" fill="#dc3a44" fill-opacity="0.7"/>
<circle cx="296" cy="479.4" r="3.7" fill="#fff" stroke="#dc3a44" stroke-width="0.95"/>
<circle cx="296" cy="479.4" r="0.6" fill="#dc3a44" fill-opacity="0.7"/>
<circle cx="301.8" cy="476.4" r="3.7" fill="#fff" stroke="#dc3a44" stroke-width="0.95"/>
<circle cx="301.8" cy="476.4" r="0.6" fill="#dc3a44" fill-opacity="0.7"/>
<circle cx="308.7" cy="473.9" r="3.7" fill="#fff" stroke="#dc3a44" stroke-width="0.95"/>
<circle cx="308.7" cy="473.9" r="0.6" fill="#dc3a44" fill-opacity="0.7"/>
<circle cx="315.4" cy="472.8" r="3.7" fill="#fff" stroke="#dc3a44" stroke-width="0.95"/>
<circle cx="315.4" cy="472.8" r="0.6" fill="#dc3a44" fill-opacity="0.7"/>
<circle cx="322.5" cy="465.3" r="3.7" fill="#fff" stroke="#dc3a44" stroke-width="0.95"/>
<circle cx="322.5" cy="465.3" r="0.6" fill="#dc3a44" fill-opacity="0.7"/>
<circle cx="329.6" cy="467.3" r="3.7" fill="#fff" stroke="#dc3a44" stroke-width="0.95"/>
<circle cx="329.6" cy="467.3" r="0.6" fill="#dc3a44" fill-opacity="0.7"/>
<circle cx="338.6" cy="461.2" r="3.7" fill="#fff" stroke="#dc3a44" stroke-width="0.95"/>
<circle cx="338.6" cy="461.2" r="0.6" fill="#dc3a44" fill-opacity="0.7"/>
<circle cx="348" cy="453.6" r="3.7" fill="#fff" stroke="#dc3a44" stroke-width="0.95"/>
<circle cx="348" cy="453.6" r="0.6" fill="#dc3a44" fill-opacity="0.7"/>
<circle cx="355.7" cy="446.7" r="3.7" fill="#fff" stroke="#dc3a44" stroke-width="0.95"/>
<circle cx="355.7" cy="446.7" r="0.6" fill="#dc3a44" fill-opacity="0.7"/>
<circle cx="366" cy="442" r="3.7" fill="#fff" stroke="#dc3a44" stroke-width="0.95"/>
<circle cx="366" cy="442" r="0.6" fill="#dc3a44" fill-opacity="0.7"/>
<circle cx="376.4" cy="436.9" r="3.7" fill="#fff" stroke="#dc3a44" stroke-width="0.95"/>
<circle cx="376.4" cy="436.9" r="0.6" fill="#dc3a44" fill-opacity="0.7"/>
<circle cx="388" cy="424.6" r="3.7" fill="#fff" stroke="#dc3a44" stroke-width="0.95"/>
<circle cx="388" cy="424.6" r="0.6" fill="#dc3a44" fill-opacity="0.7"/>
<circle cx="400.1" cy="420.2" r="3.7" fill="#fff" stroke="#dc3a44" stroke-width="0.95"/>
<circle cx="400.1" cy="420.2" r="0.6" fill="#dc3a44" fill-opacity="0.7"/>
<circle cx="413.9" cy="411" r="3.7" fill="#fff" stroke="#dc3a44" stroke-width="0.95"/>
<circle cx="413.9" cy="411" r="0.6" fill="#dc3a44" fill-opacity="0.7"/>
<circle cx="430.9" cy="402.7" r="3.7" fill="#fff" stroke="#dc3a44" stroke-width="0.95"/>
<circle cx="430.9" cy="402.7" r="0.6" fill="#dc3a44" fill-opacity="0.7"/>
<circle cx="274.8" cy="394.7" r="3.7" fill="#fff" stroke="#2f2fd6" stroke-width="1"/>
<circle cx="274.8" cy="394.7" r="0.6" fill="#2f2fd6" fill-opacity="0.7"/>
<circle cx="275.8" cy="397.3" r="3.7" fill="#fff" stroke="#2f2fd6" stroke-width="1"/>
<circle cx="275.8" cy="397.3" r="0.6" fill="#2f2fd6" fill-opacity="0.7"/>
<circle cx="277.3" cy="417.2" r="3.7" fill="#fff" stroke="#2f2fd6" stroke-width="1"/>
<circle cx="277.3" cy="417.2" r="0.6" fill="#2f2fd6" fill-opacity="0.7"/>
<circle cx="279.5" cy="423.9" r="3.7" fill="#fff" stroke="#2f2fd6" stroke-width="1"/>
<circle cx="279.5" cy="423.9" r="0.6" fill="#2f2fd6" fill-opacity="0.7"/>
<circle cx="281.7" cy="426.4" r="3.7" fill="#fff" stroke="#2f2fd6" stroke-width="1"/>
<circle cx="281.7" cy="426.4" r="0.6" fill="#2f2fd6" fill-opacity="0.7"/>
<circle cx="284.6" cy="429" r="3.7" fill="#fff" stroke="#2f2fd6" stroke-width="1"/>
<circle cx="284.6" cy="429" r="0.6" fill="#2f2fd6" fill-opacity="0.7"/>
<circle cx="288.4" cy="433.5" r="3.7" fill="#fff" stroke="#2f2fd6" stroke-width="1"/>
<circle cx="288.4" cy="433.5" r="0.6" fill="#2f2fd6" fill-opacity="0.7"/>
<circle cx="291.5" cy="478.9" r="3.7" fill="#fff" stroke="#2f2fd6" stroke-width="1"/>
<circle cx="291.5" cy="478.9" r="0.6" fill="#2f2fd6" fill-opacity="0.7"/>
<circle cx="296" cy="480.6" r="3.7" fill="#fff" stroke="#2f2fd6" stroke-width="1"/>
<circle cx="296" cy="480.6" r="0.6" fill="#2f2fd6" fill-opacity="0.7"/>
<circle cx="301.8" cy="483" r="3.7" fill="#fff" stroke="#2f2fd6" stroke-width="1"/>
<circle cx="301.8" cy="483" r="0.6" fill="#2f2fd6" fill-opacity="0.7"/>
<circle cx="308.7" cy="483.4" r="3.7" fill="#fff" stroke="#2f2fd6" stroke-width="1"/>
<circle cx="308.7" cy="483.4" r="0.6" fill="#2f2fd6" fill-opacity="0.7"/>
<circle cx="315.4" cy="483.9" r="3.7" fill="#fff" stroke="#2f2fd6" stroke-width="1"/>
<circle cx="315.4" cy="483.9" r="0.6" fill="#2f2fd6" fill-opacity="0.7"/>
<circle cx="322.5" cy="484.7" r="3.7" fill="#fff" stroke="#2f2fd6" stroke-width="1"/>
<circle cx="322.5" cy="484.7" r="0.6" fill="#2f2fd6" fill-opacity="0.7"/>
<circle cx="329.6" cy="485" r="3.7" fill="#fff" stroke="#2f2fd6" stroke-width="1"/>
<circle cx="329.6" cy="485" r="0.6" fill="#2f2fd6" fill-opacity="0.7"/>
<circle cx="338.6" cy="484.7" r="3.7" fill="#fff" stroke="#2f2fd6" stroke-width="1"/>
<circle cx="338.6" cy="484.7" r="0.6" fill="#2f2fd6" fill-opacity="0.7"/>
<circle cx="348" cy="490.2" r="3.7" fill="#fff" stroke="#2f2fd6" stroke-width="1"/>
<circle cx="348" cy="490.2" r="0.6" fill="#2f2fd6" fill-opacity="0.7"/>
<circle cx="355.7" cy="490.4" r="3.7" fill="#fff" stroke="#2f2fd6" stroke-width="1"/>
<circle cx="355.7" cy="490.4" r="0.6" fill="#2f2fd6" fill-opacity="0.7"/>
<circle cx="366" cy="490.7" r="3.7" fill="#fff" stroke="#2f2fd6" stroke-width="1"/>
<circle cx="366" cy="490.7" r="0.6" fill="#2f2fd6" fill-opacity="0.7"/>
<circle cx="376.4" cy="490.7" r="3.7" fill="#fff" stroke="#2f2fd6" stroke-width="1"/>
<circle cx="376.4" cy="490.7" r="0.6" fill="#2f2fd6" fill-opacity="0.7"/>
<circle cx="387.7" cy="490.7" r="3.7" fill="#fff" stroke="#2f2fd6" stroke-width="1"/>
<circle cx="387.7" cy="490.7" r="0.6" fill="#2f2fd6" fill-opacity="0.7"/>
<circle cx="400.1" cy="490.7" r="3.7" fill="#fff" stroke="#2f2fd6" stroke-width="1"/>
<circle cx="400.1" cy="490.7" r="0.6" fill="#2f2fd6" fill-opacity="0.7"/>
<circle cx="413.9" cy="490.7" r="3.7" fill="#fff" stroke="#2f2fd6" stroke-width="1"/>
<circle cx="413.9" cy="490.7" r="0.6" fill="#2f2fd6" fill-opacity="0.7"/>
<circle cx="430.9" cy="490.7" r="3.7" fill="#fff" stroke="#2f2fd6" stroke-width="1"/>
<circle cx="430.9" cy="490.7" r="0.6" fill="#2f2fd6" fill-opacity="0.7"/>
<line x1="266.9" y1="384.3" x2="441.2" y2="384.3" stroke="#1e1e1e" stroke-width="1.3" stroke-linecap="butt"/>
<line x1="266.9" y1="513.6" x2="441.2" y2="513.6" stroke="#1e1e1e" stroke-width="1.3" stroke-linecap="butt"/>
<line x1="266.9" y1="383.65" x2="266.9" y2="514.25" stroke="#da2129" stroke-width="1.3" stroke-linecap="butt"/>
<line x1="441.2" y1="383.65" x2="441.2" y2="514.25" stroke="#2f2fd0" stroke-width="1.3" stroke-linecap="butt"/>
<line x1="274.5" y1="384.3" x2="274.5" y2="387.2" stroke="#1e1e1e" stroke-width="1.1" stroke-linecap="butt"/>
<line x1="295.5" y1="384.3" x2="295.5" y2="387.2" stroke="#1e1e1e" stroke-width="1.1" stroke-linecap="butt"/>
<line x1="316.5" y1="384.3" x2="316.5" y2="387.2" stroke="#1e1e1e" stroke-width="1.1" stroke-linecap="butt"/>
<line x1="337.5" y1="384.3" x2="337.5" y2="387.2" stroke="#1e1e1e" stroke-width="1.1" stroke-linecap="butt"/>
<line x1="357.5" y1="384.3" x2="357.5" y2="387.2" stroke="#1e1e1e" stroke-width="1.1" stroke-linecap="butt"/>
<line x1="378.5" y1="384.3" x2="378.5" y2="387.2" stroke="#1e1e1e" stroke-width="1.1" stroke-linecap="butt"/>
<line x1="399.5" y1="384.3" x2="399.5" y2="387.2" stroke="#1e1e1e" stroke-width="1.1" stroke-linecap="butt"/>
<line x1="420.5" y1="384.3" x2="420.5" y2="387.2" stroke="#1e1e1e" stroke-width="1.1" stroke-linecap="butt"/>
<line x1="274.5" y1="513.6" x2="274.5" y2="510.7" stroke="#1e1e1e" stroke-width="1.1" stroke-linecap="butt"/>
<line x1="295.5" y1="513.6" x2="295.5" y2="510.7" stroke="#1e1e1e" stroke-width="1.1" stroke-linecap="butt"/>
<line x1="316.5" y1="513.6" x2="316.5" y2="510.7" stroke="#1e1e1e" stroke-width="1.1" stroke-linecap="butt"/>
<line x1="337.5" y1="513.6" x2="337.5" y2="510.7" stroke="#1e1e1e" stroke-width="1.1" stroke-linecap="butt"/>
<line x1="357.5" y1="513.6" x2="357.5" y2="510.7" stroke="#1e1e1e" stroke-width="1.1" stroke-linecap="butt"/>
<line x1="378.5" y1="513.6" x2="378.5" y2="510.7" stroke="#1e1e1e" stroke-width="1.1" stroke-linecap="butt"/>
<line x1="399.5" y1="513.6" x2="399.5" y2="510.7" stroke="#1e1e1e" stroke-width="1.1" stroke-linecap="butt"/>
<line x1="420.5" y1="513.6" x2="420.5" y2="510.7" stroke="#1e1e1e" stroke-width="1.1" stroke-linecap="butt"/>
<line x1="266.9" y1="392.5" x2="269.8" y2="392.5" stroke="#da2129" stroke-width="1.1" stroke-linecap="butt"/>
<line x1="266.9" y1="408.5" x2="269.8" y2="408.5" stroke="#da2129" stroke-width="1.1" stroke-linecap="butt"/>
<line x1="266.9" y1="424.5" x2="269.8" y2="424.5" stroke="#da2129" stroke-width="1.1" stroke-linecap="butt"/>
<line x1="266.9" y1="441.5" x2="269.8" y2="441.5" stroke="#da2129" stroke-width="1.1" stroke-linecap="butt"/>
<line x1="266.9" y1="457.5" x2="269.8" y2="457.5" stroke="#da2129" stroke-width="1.1" stroke-linecap="butt"/>
<line x1="266.9" y1="473.5" x2="269.8" y2="473.5" stroke="#da2129" stroke-width="1.1" stroke-linecap="butt"/>
<line x1="266.9" y1="489.5" x2="269.8" y2="489.5" stroke="#da2129" stroke-width="1.1" stroke-linecap="butt"/>
<line x1="266.9" y1="505.5" x2="269.8" y2="505.5" stroke="#da2129" stroke-width="1.1" stroke-linecap="butt"/>
<line x1="441.2" y1="394.5" x2="438.3" y2="394.5" stroke="#2f2fd0" stroke-width="1.1" stroke-linecap="butt"/>
<line x1="441.2" y1="410.5" x2="438.3" y2="410.5" stroke="#2f2fd0" stroke-width="1.1" stroke-linecap="butt"/>
<line x1="441.2" y1="426.5" x2="438.3" y2="426.5" stroke="#2f2fd0" stroke-width="1.1" stroke-linecap="butt"/>
<line x1="441.2" y1="443.5" x2="438.3" y2="443.5" stroke="#2f2fd0" stroke-width="1.1" stroke-linecap="butt"/>
<line x1="441.2" y1="459.5" x2="438.3" y2="459.5" stroke="#2f2fd0" stroke-width="1.1" stroke-linecap="butt"/>
<line x1="441.2" y1="475.5" x2="438.3" y2="475.5" stroke="#2f2fd0" stroke-width="1.1" stroke-linecap="butt"/>
<line x1="441.2" y1="491.5" x2="438.3" y2="491.5" stroke="#2f2fd0" stroke-width="1.1" stroke-linecap="butt"/>
<line x1="441.2" y1="508.5" x2="438.3" y2="508.5" stroke="#2f2fd0" stroke-width="1.1" stroke-linecap="butt"/>
<text x="263.4" y="411.12" font-size="10.8" fill="#da2129" text-anchor="end" font-weight="normal">24k</text>
<text x="263.4" y="443.92" font-size="10.8" fill="#da2129" text-anchor="end" font-weight="normal">16k</text>
<text x="263.4" y="476.62" font-size="10.8" fill="#da2129" text-anchor="end" font-weight="normal">8k</text>
<text x="263.4" y="509.52" font-size="10.8" fill="#da2129" text-anchor="end" font-weight="normal">0</text>
<text x="445.8" y="399.32" font-size="10.8" fill="#2f2fd0" text-anchor="start" font-weight="normal">45</text>
<text x="445.8" y="431.02" font-size="10.8" fill="#2f2fd0" text-anchor="start" font-weight="normal">30</text>
<text x="445.8" y="463.32" font-size="10.8" fill="#2f2fd0" text-anchor="start" font-weight="normal">15</text>
<text x="445.8" y="496.12" font-size="10.8" fill="#2f2fd0" text-anchor="start" font-weight="normal">0</text>
<text x="275.1" y="525.82" font-size="10.8" fill="#1e1e1e" text-anchor="middle" font-weight="normal">0</text>
<text x="316.6" y="525.82" font-size="10.8" fill="#1e1e1e" text-anchor="middle" font-weight="normal">5</text>
<text x="359.8" y="525.82" font-size="10.8" fill="#1e1e1e" text-anchor="middle" font-weight="normal">10</text>
<text x="401" y="525.82" font-size="10.8" fill="#1e1e1e" text-anchor="middle" font-weight="normal">15</text>
<text x="442.4" y="525.82" font-size="10.8" fill="#1e1e1e" text-anchor="middle" font-weight="normal">20</text>
<text x="269.5" y="538" font-size="12.6" fill="#111" font-weight="bold" text-anchor="start">Pump power density (MW/cm<tspan font-size="8.82" dy="-4.2">2</tspan><tspan dy="4.2">)</tspan></text>
<text x="243.3" y="452.8" font-size="13.1" fill="#da2129" text-anchor="middle" font-weight="bold" transform="rotate(-90 243.3 452.8)">Intensity (a.u.)</text>
<text x="470.2" y="456.8" font-size="13.1" fill="#2f2fd0" text-anchor="middle" font-weight="bold" transform="rotate(-90 470.2 456.8)">Linewidth (nm)</text>
<text x="239" y="379.8" font-size="13.6" fill="#111" text-anchor="start" font-weight="bold">(h)</text>
<rect x="321.2" y="393.4" width="2" height="11.8" fill="#151515"/>
<rect x="363.8" y="393.4" width="2" height="11.8" fill="#151515"/>
<rect x="368.5" y="393.4" width="2" height="11.8" fill="#151515"/>
<path d="M518,93.3 C518.88,92.42 521.6,89.85 523.3,88 C525,86.15 526.55,84.55 528.2,82.2 C529.85,79.85 531.53,77.08 533.2,73.9 C534.87,70.72 536.55,66.55 538.2,63.1 C539.85,59.65 541.45,55.95 543.1,53.2 C544.75,50.45 546.43,48.32 548.1,46.6 C549.77,44.88 551.4,43.68 553.1,42.9 C554.8,42.12 556.88,41.92 558.3,41.9 C559.72,41.88 560.35,42.45 561.6,42.8 C562.85,43.15 564.68,44 565.8,44 C566.92,44 567.62,43.55 568.3,42.8 C568.98,42.05 569.43,40.95 569.9,39.5 C570.37,38.05 570.68,35.83 571.1,34.1 C571.52,32.37 572.02,30.32 572.4,29.1 C572.78,27.88 573.05,26.8 573.4,26.8 C573.75,26.8 574.12,27.47 574.5,29.1 C574.88,30.73 575.3,33.7 575.7,36.6 C576.1,39.5 576.42,43.47 576.9,46.5 C577.38,49.53 577.83,52.73 578.6,54.8 C579.37,56.87 580.18,57.4 581.5,58.9 C582.82,60.4 584.8,62.23 586.5,63.8 C588.2,65.37 589.97,67.03 591.7,68.3 C593.43,69.57 595.17,70.45 596.9,71.4 C598.63,72.35 600.38,73.22 602.1,74 C603.82,74.78 605.3,75.37 607.2,76.1 C609.1,76.83 610.78,77.38 613.5,78.4 C616.22,79.42 620.5,81.05 623.5,82.2 C626.5,83.35 627.87,83.93 631.5,85.3 C635.13,86.67 640.7,88.98 645.3,90.4 C649.9,91.82 654.6,92.77 659.1,93.8 C663.6,94.83 670.1,96.13 672.3,96.6" fill="none" stroke="#e0181f" stroke-width="1.35" stroke-linejoin="round" stroke-linecap="round"/>
<path d="M518,121.9 C518.88,120.38 521.6,115.97 523.3,112.8 C525,109.63 526.55,106.35 528.2,102.9 C529.85,99.45 531.53,95.83 533.2,92.1 C534.87,88.37 536.55,83.8 538.2,80.5 C539.85,77.2 541.45,74.55 543.1,72.3 C544.75,70.05 546.57,68.18 548.1,67 C549.63,65.82 550.92,65.28 552.3,65.2 C553.68,65.12 555.02,65.77 556.4,66.5 C557.78,67.23 559.05,68.27 560.6,69.6 C562.15,70.93 563.98,72.73 565.7,74.5 C567.42,76.27 569.17,78.2 570.9,80.2 C572.63,82.2 574.37,84.5 576.1,86.5 C577.83,88.5 579.57,90.4 581.3,92.2 C583.03,94 584.77,95.75 586.5,97.3 C588.23,98.85 589.97,100.28 591.7,101.5 C593.43,102.72 595.17,103.65 596.9,104.6 C598.63,105.55 600.38,106.37 602.1,107.2 C603.82,108.03 605.48,108.82 607.2,109.6 C608.92,110.38 609.5,110.62 612.4,111.9 C615.3,113.18 620.27,115.37 624.6,117.3 C628.93,119.23 633.8,121.55 638.4,123.5 C643,125.45 646.55,127.38 652.2,129 C657.85,130.62 668.95,132.5 672.3,133.2" fill="none" stroke="#000" stroke-width="1.35" stroke-linejoin="round" stroke-linecap="round"/>
<line x1="518" y1="19.2" x2="672.6" y2="19.2" stroke="#1e1e1e" stroke-width="1.3" stroke-linecap="butt"/>
<line x1="518" y1="149.1" x2="672.6" y2="149.1" stroke="#1e1e1e" stroke-width="1.3" stroke-linecap="butt"/>
<line x1="518" y1="18.55" x2="518" y2="149.75" stroke="#1e1e1e" stroke-width="1.3" stroke-linecap="butt"/>
<line x1="672.6" y1="18.55" x2="672.6" y2="149.75" stroke="#1e1e1e" stroke-width="1.3" stroke-linecap="butt"/>
<line x1="535.5" y1="19.2" x2="535.5" y2="22.1" stroke="#1e1e1e" stroke-width="1.1" stroke-linecap="butt"/>
<line x1="552.5" y1="19.2" x2="552.5" y2="22.1" stroke="#1e1e1e" stroke-width="1.1" stroke-linecap="butt"/>
<line x1="569.5" y1="19.2" x2="569.5" y2="22.1" stroke="#1e1e1e" stroke-width="1.1" stroke-linecap="butt"/>
<line x1="587.5" y1="19.2" x2="587.5" y2="22.1" stroke="#1e1e1e" stroke-width="1.1" stroke-linecap="butt"/>
<line x1="604.5" y1="19.2" x2="604.5" y2="22.1" stroke="#1e1e1e" stroke-width="1.1" stroke-linecap="butt"/>
<line x1="621.5" y1="19.2" x2="621.5" y2="22.1" stroke="#1e1e1e" stroke-width="1.1" stroke-linecap="butt"/>
<line x1="638.5" y1="19.2" x2="638.5" y2="22.1" stroke="#1e1e1e" stroke-width="1.1" stroke-linecap="butt"/>
<line x1="656.5" y1="19.2" x2="656.5" y2="22.1" stroke="#1e1e1e" stroke-width="1.1" stroke-linecap="butt"/>
<line x1="535.5" y1="149.1" x2="535.5" y2="146.2" stroke="#1e1e1e" stroke-width="1.1" stroke-linecap="butt"/>
<line x1="552.5" y1="149.1" x2="552.5" y2="146.2" stroke="#1e1e1e" stroke-width="1.1" stroke-linecap="butt"/>
<line x1="569.5" y1="149.1" x2="569.5" y2="146.2" stroke="#1e1e1e" stroke-width="1.1" stroke-linecap="butt"/>
<line x1="587.5" y1="149.1" x2="587.5" y2="146.2" stroke="#1e1e1e" stroke-width="1.1" stroke-linecap="butt"/>
<line x1="604.5" y1="149.1" x2="604.5" y2="146.2" stroke="#1e1e1e" stroke-width="1.1" stroke-linecap="butt"/>
<line x1="621.5" y1="149.1" x2="621.5" y2="146.2" stroke="#1e1e1e" stroke-width="1.1" stroke-linecap="butt"/>
<line x1="638.5" y1="149.1" x2="638.5" y2="146.2" stroke="#1e1e1e" stroke-width="1.1" stroke-linecap="butt"/>
<line x1="656.5" y1="149.1" x2="656.5" y2="146.2" stroke="#1e1e1e" stroke-width="1.1" stroke-linecap="butt"/>
<line x1="518" y1="26.5" x2="520.9" y2="26.5" stroke="#1e1e1e" stroke-width="1.1" stroke-linecap="butt"/>
<line x1="518" y1="45.5" x2="520.9" y2="45.5" stroke="#1e1e1e" stroke-width="1.1" stroke-linecap="butt"/>
<line x1="518" y1="65.5" x2="520.9" y2="65.5" stroke="#1e1e1e" stroke-width="1.1" stroke-linecap="butt"/>
<line x1="518" y1="84.5" x2="520.9" y2="84.5" stroke="#1e1e1e" stroke-width="1.1" stroke-linecap="butt"/>
<line x1="518" y1="103.5" x2="520.9" y2="103.5" stroke="#1e1e1e" stroke-width="1.1" stroke-linecap="butt"/>
<line x1="518" y1="123.5" x2="520.9" y2="123.5" stroke="#1e1e1e" stroke-width="1.1" stroke-linecap="butt"/>
<line x1="518" y1="142.5" x2="520.9" y2="142.5" stroke="#1e1e1e" stroke-width="1.1" stroke-linecap="butt"/>
<line x1="672.6" y1="26.5" x2="669.7" y2="26.5" stroke="#1e1e1e" stroke-width="1.1" stroke-linecap="butt"/>
<line x1="672.6" y1="45.5" x2="669.7" y2="45.5" stroke="#1e1e1e" stroke-width="1.1" stroke-linecap="butt"/>
<line x1="672.6" y1="65.5" x2="669.7" y2="65.5" stroke="#1e1e1e" stroke-width="1.1" stroke-linecap="butt"/>
<line x1="672.6" y1="84.5" x2="669.7" y2="84.5" stroke="#1e1e1e" stroke-width="1.1" stroke-linecap="butt"/>
<line x1="672.6" y1="103.5" x2="669.7" y2="103.5" stroke="#1e1e1e" stroke-width="1.1" stroke-linecap="butt"/>
<line x1="672.6" y1="123.5" x2="669.7" y2="123.5" stroke="#1e1e1e" stroke-width="1.1" stroke-linecap="butt"/>
<line x1="672.6" y1="142.5" x2="669.7" y2="142.5" stroke="#1e1e1e" stroke-width="1.1" stroke-linecap="butt"/>
<text x="515.4" y="29.42" font-size="10.8" fill="#1e1e1e" text-anchor="end" font-weight="normal">1.5</text>
<text x="515.4" y="69.02" font-size="10.8" fill="#1e1e1e" text-anchor="end" font-weight="normal">1.0</text>
<text x="515.4" y="109.72" font-size="10.8" fill="#1e1e1e" text-anchor="end" font-weight="normal">0.5</text>
<text x="515.4" y="149.62" font-size="10.8" fill="#1e1e1e" text-anchor="end" font-weight="normal">0.0</text>
<text x="518.8" y="161.82" font-size="10.8" fill="#1e1e1e" text-anchor="middle" font-weight="normal">540</text>
<text x="552.9" y="161.82" font-size="10.8" fill="#1e1e1e" text-anchor="middle" font-weight="normal">560</text>
<text x="586.9" y="161.82" font-size="10.8" fill="#1e1e1e" text-anchor="middle" font-weight="normal">580</text>
<text x="620.6" y="161.82" font-size="10.8" fill="#1e1e1e" text-anchor="middle" font-weight="normal">600</text>
<text x="654.2" y="161.82" font-size="10.8" fill="#1e1e1e" text-anchor="middle" font-weight="normal">580</text>
<text x="548.5" y="174.9" font-size="12.6" fill="#111" text-anchor="start" font-weight="bold">Wavelength (nm)</text>
<text x="495.2" y="89.1" font-size="13.1" fill="#111" text-anchor="middle" font-weight="bold" transform="rotate(-90 495.2 89.1)">Intensity (a.u.)</text>
<text x="486.7" y="12.3" font-size="13.6" fill="#111" text-anchor="start" font-weight="bold">(c)</text>
<text x="594.9" y="62.7" font-size="11.9" fill="#d01c24" font-weight="bold">5.73 MW/cm<tspan font-size="8.57" dy="-4">2</tspan></text>
<text x="568.2" y="132.9" font-size="10.9" fill="#222" font-weight="normal">0.58 MW/cm<tspan font-size="7.85" dy="-4">2</tspan></text>
<polyline points="517.8,264.4 527.9,264 540.8,263.5 553.7,262.8 560.1,262 564,260.5 567.8,257.3 571.7,250.8 574.5,244.4 575.6,235.4 576.9,234.5 578.1,232.8 579.4,228.9 582,223.5 583.4,215 584.5,207.6 585.9,212.1 587,213.5 588.2,210.7 589.6,219.1 591.3,225.4 592.7,211.4 594.1,230.4 596.2,238.8 599.7,247.3 603.9,252.9 608.1,254.6 615.2,255.4 622.2,256.4 633.5,258.5 643.3,260.6 657.4,262.3 672.2,263" fill="none" stroke="#e0181f" stroke-width="1.35" stroke-linejoin="round" stroke-linecap="round"/>
<path d="M517.9,311.3 C518.72,310.23 521.17,307.1 522.8,304.9 C524.43,302.7 526.07,300.37 527.7,298.1 C529.33,295.83 530.98,293.5 532.6,291.3 C534.22,289.1 535.78,286.88 537.4,284.9 C539.02,282.92 540.67,281.1 542.3,279.4 C543.93,277.7 545.57,275.97 547.2,274.7 C548.83,273.43 550.47,272.45 552.1,271.8 C553.73,271.15 555.38,270.93 557,270.8 C558.62,270.67 560.18,270.72 561.8,271 C563.42,271.28 565.25,271.9 566.7,272.5 C568.15,273.1 569.22,273.83 570.5,274.6 C571.78,275.37 573,276.17 574.4,277.1 C575.8,278.03 577.42,279.17 578.9,280.2 C580.38,281.23 581.82,282.27 583.3,283.3 C584.78,284.33 586.32,285.43 587.8,286.4 C589.28,287.37 590.72,288.28 592.2,289.1 C593.68,289.92 595.22,290.63 596.7,291.3 C598.18,291.97 599.62,292.53 601.1,293.1 C602.58,293.67 604.12,294.18 605.6,294.7 C607.08,295.22 608.53,295.72 610,296.2 C611.47,296.68 612.92,297.15 614.4,297.6 C615.88,298.05 617.42,298.38 618.9,298.9 C620.38,299.42 621.82,300.12 623.3,300.7 C624.78,301.28 625.08,301.35 627.8,302.4 C630.52,303.45 635.73,305.53 639.6,307 C643.47,308.47 647.45,309.98 651,311.2 C654.55,312.42 657.35,313.35 660.9,314.3 C664.45,315.25 670.4,316.47 672.3,316.9" fill="none" stroke="#000" stroke-width="1.35" stroke-linejoin="round" stroke-linecap="round"/>
<line x1="518" y1="202.2" x2="672.3" y2="202.2" stroke="#1e1e1e" stroke-width="1.3" stroke-linecap="butt"/>
<line x1="518" y1="332.6" x2="672.3" y2="332.6" stroke="#1e1e1e" stroke-width="1.3" stroke-linecap="butt"/>
<line x1="518" y1="201.55" x2="518" y2="333.25" stroke="#1e1e1e" stroke-width="1.3" stroke-linecap="butt"/>
<line x1="672.3" y1="201.55" x2="672.3" y2="333.25" stroke="#1e1e1e" stroke-width="1.3" stroke-linecap="butt"/>
<line x1="535.5" y1="202.2" x2="535.5" y2="205.1" stroke="#1e1e1e" stroke-width="1.1" stroke-linecap="butt"/>
<line x1="552.5" y1="202.2" x2="552.5" y2="205.1" stroke="#1e1e1e" stroke-width="1.1" stroke-linecap="butt"/>
<line x1="569.5" y1="202.2" x2="569.5" y2="205.1" stroke="#1e1e1e" stroke-width="1.1" stroke-linecap="butt"/>
<line x1="587.5" y1="202.2" x2="587.5" y2="205.1" stroke="#1e1e1e" stroke-width="1.1" stroke-linecap="butt"/>
<line x1="604.5" y1="202.2" x2="604.5" y2="205.1" stroke="#1e1e1e" stroke-width="1.1" stroke-linecap="butt"/>
<line x1="621.5" y1="202.2" x2="621.5" y2="205.1" stroke="#1e1e1e" stroke-width="1.1" stroke-linecap="butt"/>
<line x1="638.5" y1="202.2" x2="638.5" y2="205.1" stroke="#1e1e1e" stroke-width="1.1" stroke-linecap="butt"/>
<line x1="656.5" y1="202.2" x2="656.5" y2="205.1" stroke="#1e1e1e" stroke-width="1.1" stroke-linecap="butt"/>
<line x1="535.5" y1="332.6" x2="535.5" y2="329.7" stroke="#1e1e1e" stroke-width="1.1" stroke-linecap="butt"/>
<line x1="552.5" y1="332.6" x2="552.5" y2="329.7" stroke="#1e1e1e" stroke-width="1.1" stroke-linecap="butt"/>
<line x1="569.5" y1="332.6" x2="569.5" y2="329.7" stroke="#1e1e1e" stroke-width="1.1" stroke-linecap="butt"/>
<line x1="587.5" y1="332.6" x2="587.5" y2="329.7" stroke="#1e1e1e" stroke-width="1.1" stroke-linecap="butt"/>
<line x1="604.5" y1="332.6" x2="604.5" y2="329.7" stroke="#1e1e1e" stroke-width="1.1" stroke-linecap="butt"/>
<line x1="621.5" y1="332.6" x2="621.5" y2="329.7" stroke="#1e1e1e" stroke-width="1.1" stroke-linecap="butt"/>
<line x1="638.5" y1="332.6" x2="638.5" y2="329.7" stroke="#1e1e1e" stroke-width="1.1" stroke-linecap="butt"/>
<line x1="656.5" y1="332.6" x2="656.5" y2="329.7" stroke="#1e1e1e" stroke-width="1.1" stroke-linecap="butt"/>
<line x1="518" y1="207.5" x2="520.9" y2="207.5" stroke="#1e1e1e" stroke-width="1.1" stroke-linecap="butt"/>
<line x1="518" y1="227.5" x2="520.9" y2="227.5" stroke="#1e1e1e" stroke-width="1.1" stroke-linecap="butt"/>
<line x1="518" y1="247.5" x2="520.9" y2="247.5" stroke="#1e1e1e" stroke-width="1.1" stroke-linecap="butt"/>
<line x1="518" y1="267.5" x2="520.9" y2="267.5" stroke="#1e1e1e" stroke-width="1.1" stroke-linecap="butt"/>
<line x1="518" y1="287.5" x2="520.9" y2="287.5" stroke="#1e1e1e" stroke-width="1.1" stroke-linecap="butt"/>
<line x1="518" y1="307.5" x2="520.9" y2="307.5" stroke="#1e1e1e" stroke-width="1.1" stroke-linecap="butt"/>
<line x1="518" y1="327.5" x2="520.9" y2="327.5" stroke="#1e1e1e" stroke-width="1.1" stroke-linecap="butt"/>
<line x1="672.3" y1="207.5" x2="669.4" y2="207.5" stroke="#1e1e1e" stroke-width="1.1" stroke-linecap="butt"/>
<line x1="672.3" y1="227.5" x2="669.4" y2="227.5" stroke="#1e1e1e" stroke-width="1.1" stroke-linecap="butt"/>
<line x1="672.3" y1="247.5" x2="669.4" y2="247.5" stroke="#1e1e1e" stroke-width="1.1" stroke-linecap="butt"/>
<line x1="672.3" y1="267.5" x2="669.4" y2="267.5" stroke="#1e1e1e" stroke-width="1.1" stroke-linecap="butt"/>
<line x1="672.3" y1="287.5" x2="669.4" y2="287.5" stroke="#1e1e1e" stroke-width="1.1" stroke-linecap="butt"/>
<line x1="672.3" y1="307.5" x2="669.4" y2="307.5" stroke="#1e1e1e" stroke-width="1.1" stroke-linecap="butt"/>
<line x1="672.3" y1="327.5" x2="669.4" y2="327.5" stroke="#1e1e1e" stroke-width="1.1" stroke-linecap="butt"/>
<text x="515.4" y="213.22" font-size="10.8" fill="#1e1e1e" text-anchor="end" font-weight="normal">2.1</text>
<text x="515.4" y="253.02" font-size="10.8" fill="#1e1e1e" text-anchor="end" font-weight="normal">1.4</text>
<text x="515.4" y="293.02" font-size="10.8" fill="#1e1e1e" text-anchor="end" font-weight="normal">0.7</text>
<text x="515.4" y="333.62" font-size="10.8" fill="#1e1e1e" text-anchor="end" font-weight="normal">0.0</text>
<text x="519.6" y="345.92" font-size="10.8" fill="#1e1e1e" text-anchor="middle" font-weight="normal">540</text>
<text x="553.4" y="345.92" font-size="10.8" fill="#1e1e1e" text-anchor="middle" font-weight="normal">560</text>
<text x="587" y="345.92" font-size="10.8" fill="#1e1e1e" text-anchor="middle" font-weight="normal">580</text>
<text x="620.9" y="345.92" font-size="10.8" fill="#1e1e1e" text-anchor="middle" font-weight="normal">600</text>
<text x="654.7" y="345.92" font-size="10.8" fill="#1e1e1e" text-anchor="middle" font-weight="normal">580</text>
<text x="548.5" y="358.5" font-size="12.6" fill="#111" text-anchor="start" font-weight="bold">Wavelength (nm)</text>
<text x="495.2" y="271.1" font-size="13.1" fill="#111" text-anchor="middle" font-weight="bold" transform="rotate(-90 495.2 271.1)">Intensity (a.u.)</text>
<text x="487.1" y="199.5" font-size="13.6" fill="#111" text-anchor="start" font-weight="bold">(f)</text>
<text x="597.6" y="235.7" font-size="11.9" fill="#d01c24" font-weight="bold">22.3 MW/cm<tspan font-size="8.57" dy="-4">2</tspan></text>
<text x="597.8" y="288.5" font-size="11.9" fill="#111" font-weight="bold">0.58 MW/cm<tspan font-size="8.57" dy="-4">2</tspan></text>
<polyline points="517.8,441.2 527.9,440.6 540.8,439.9 553.7,439.7 562.7,439.3 566.5,438 570.4,435.4 574.9,432.2 576.2,430.3 577.5,431.8 580.7,430.5 582.8,427.9 583.3,428.3 584.6,425.1 585.9,425.7 587.8,421.9 589.1,422.5 591,420.5 592.3,407.5 593.5,413.5 594.3,413.2 596.9,408.9 601.1,401.8 605.3,396.9 608.1,395.2 612.4,396.2 615.9,400.4 618.7,408.1 622.2,425 626.4,427.1 630.7,427.9 639.1,432.1 647.6,435.6 656,438.4 664.4,440.2 672.2,440.5" fill="none" stroke="#1f1fc8" stroke-width="1.35" stroke-linejoin="round" stroke-linecap="round"/>
<path d="M517.9,476.8 C518.88,475.95 521.83,473.42 523.8,471.7 C525.77,469.98 527.48,468.35 529.7,466.5 C531.92,464.65 534.63,462.32 537.1,460.6 C539.57,458.88 542.05,457.3 544.5,456.2 C546.95,455.1 549.35,454.78 551.8,454 C554.25,453.22 557.23,452.37 559.2,451.5 C561.17,450.63 562.13,449.67 563.6,448.8 C565.07,447.93 566.28,446.58 568,446.3 C569.72,446.02 571.93,446.8 573.9,447.1 C575.87,447.4 577.83,448.18 579.8,448.1 C581.77,448.02 583.73,447.27 585.7,446.6 C587.67,445.93 589.9,444.75 591.6,444.1 C593.3,443.45 594.2,442.9 595.9,442.7 C597.6,442.5 599.83,442.25 601.8,442.9 C603.77,443.55 605.98,445.67 607.7,446.6 C609.42,447.53 610.63,448.5 612.1,448.5 C613.57,448.5 615.27,446.67 616.5,446.6 C617.73,446.53 618.63,446.87 619.5,448.1 C620.37,449.33 620.85,451.78 621.7,454 C622.55,456.22 623.25,459.43 624.6,461.4 C625.95,463.37 627.47,464.45 629.8,465.8 C632.13,467.15 635.42,468.28 638.6,469.5 C641.78,470.72 645.22,471.88 648.9,473.1 C652.58,474.32 656.9,475.73 660.7,476.8 C664.5,477.87 669.87,479.05 671.7,479.5" fill="none" stroke="#e0181f" stroke-width="1.35" stroke-linejoin="round" stroke-linecap="round"/>
<path d="M517.9,498.9 C518.88,497.67 521.83,494.2 523.8,491.5 C525.77,488.8 527.73,485.4 529.7,482.7 C531.67,480 533.63,477.38 535.6,475.3 C537.57,473.22 539.53,471.55 541.5,470.2 C543.47,468.85 545.55,467.87 547.4,467.2 C549.25,466.53 550.63,466.02 552.6,466.2 C554.57,466.38 556.88,467.27 559.2,468.3 C561.52,469.33 564.05,470.98 566.5,472.4 C568.95,473.82 571.43,475.33 573.9,476.8 C576.37,478.27 578.85,479.85 581.3,481.2 C583.75,482.55 585.68,483.55 588.6,484.9 C591.52,486.25 595.38,488.07 598.8,489.3 C602.22,490.53 605.65,491.43 609.1,492.3 C612.55,493.17 615.32,493.6 619.5,494.5 C623.68,495.4 629.3,496.6 634.2,497.7 C639.1,498.8 644.48,500.12 648.9,501.1 C653.32,502.08 656.9,502.93 660.7,503.6 C664.5,504.27 669.87,504.85 671.7,505.1" fill="none" stroke="#000" stroke-width="1.35" stroke-linejoin="round" stroke-linecap="round"/>
<line x1="517.8" y1="381.6" x2="672.2" y2="381.6" stroke="#1e1e1e" stroke-width="1.3" stroke-linecap="butt"/>
<line x1="517.8" y1="512.3" x2="672.2" y2="512.3" stroke="#1e1e1e" stroke-width="1.3" stroke-linecap="butt"/>
<line x1="517.8" y1="380.95" x2="517.8" y2="512.95" stroke="#1e1e1e" stroke-width="1.3" stroke-linecap="butt"/>
<line x1="672.2" y1="380.95" x2="672.2" y2="512.95" stroke="#1e1e1e" stroke-width="1.3" stroke-linecap="butt"/>
<line x1="535.5" y1="381.6" x2="535.5" y2="384.5" stroke="#1e1e1e" stroke-width="1.1" stroke-linecap="butt"/>
<line x1="552.5" y1="381.6" x2="552.5" y2="384.5" stroke="#1e1e1e" stroke-width="1.1" stroke-linecap="butt"/>
<line x1="569.5" y1="381.6" x2="569.5" y2="384.5" stroke="#1e1e1e" stroke-width="1.1" stroke-linecap="butt"/>
<line x1="587.5" y1="381.6" x2="587.5" y2="384.5" stroke="#1e1e1e" stroke-width="1.1" stroke-linecap="butt"/>
<line x1="604.5" y1="381.6" x2="604.5" y2="384.5" stroke="#1e1e1e" stroke-width="1.1" stroke-linecap="butt"/>
<line x1="621.5" y1="381.6" x2="621.5" y2="384.5" stroke="#1e1e1e" stroke-width="1.1" stroke-linecap="butt"/>
<line x1="638.5" y1="381.6" x2="638.5" y2="384.5" stroke="#1e1e1e" stroke-width="1.1" stroke-linecap="butt"/>
<line x1="656.5" y1="381.6" x2="656.5" y2="384.5" stroke="#1e1e1e" stroke-width="1.1" stroke-linecap="butt"/>
<line x1="535.5" y1="512.3" x2="535.5" y2="509.4" stroke="#1e1e1e" stroke-width="1.1" stroke-linecap="butt"/>
<line x1="552.5" y1="512.3" x2="552.5" y2="509.4" stroke="#1e1e1e" stroke-width="1.1" stroke-linecap="butt"/>
<line x1="569.5" y1="512.3" x2="569.5" y2="509.4" stroke="#1e1e1e" stroke-width="1.1" stroke-linecap="butt"/>
<line x1="587.5" y1="512.3" x2="587.5" y2="509.4" stroke="#1e1e1e" stroke-width="1.1" stroke-linecap="butt"/>
<line x1="604.5" y1="512.3" x2="604.5" y2="509.4" stroke="#1e1e1e" stroke-width="1.1" stroke-linecap="butt"/>
<line x1="621.5" y1="512.3" x2="621.5" y2="509.4" stroke="#1e1e1e" stroke-width="1.1" stroke-linecap="butt"/>
<line x1="638.5" y1="512.3" x2="638.5" y2="509.4" stroke="#1e1e1e" stroke-width="1.1" stroke-linecap="butt"/>
<line x1="656.5" y1="512.3" x2="656.5" y2="509.4" stroke="#1e1e1e" stroke-width="1.1" stroke-linecap="butt"/>
<line x1="517.8" y1="400.5" x2="520.7" y2="400.5" stroke="#1e1e1e" stroke-width="1.1" stroke-linecap="butt"/>
<line x1="517.8" y1="419.5" x2="520.7" y2="419.5" stroke="#1e1e1e" stroke-width="1.1" stroke-linecap="butt"/>
<line x1="517.8" y1="437.5" x2="520.7" y2="437.5" stroke="#1e1e1e" stroke-width="1.1" stroke-linecap="butt"/>
<line x1="517.8" y1="456.5" x2="520.7" y2="456.5" stroke="#1e1e1e" stroke-width="1.1" stroke-linecap="butt"/>
<line x1="517.8" y1="475.5" x2="520.7" y2="475.5" stroke="#1e1e1e" stroke-width="1.1" stroke-linecap="butt"/>
<line x1="517.8" y1="493.5" x2="520.7" y2="493.5" stroke="#1e1e1e" stroke-width="1.1" stroke-linecap="butt"/>
<line x1="672.2" y1="400.5" x2="669.3" y2="400.5" stroke="#1e1e1e" stroke-width="1.1" stroke-linecap="butt"/>
<line x1="672.2" y1="419.5" x2="669.3" y2="419.5" stroke="#1e1e1e" stroke-width="1.1" stroke-linecap="butt"/>
<line x1="672.2" y1="437.5" x2="669.3" y2="437.5" stroke="#1e1e1e" stroke-width="1.1" stroke-linecap="butt"/>
<line x1="672.2" y1="456.5" x2="669.3" y2="456.5" stroke="#1e1e1e" stroke-width="1.1" stroke-linecap="butt"/>
<line x1="672.2" y1="475.5" x2="669.3" y2="475.5" stroke="#1e1e1e" stroke-width="1.1" stroke-linecap="butt"/>
<line x1="672.2" y1="493.5" x2="669.3" y2="493.5" stroke="#1e1e1e" stroke-width="1.1" stroke-linecap="butt"/>
<text x="515.2" y="405.22" font-size="10.8" fill="#1e1e1e" text-anchor="end" font-weight="normal">2.4</text>
<text x="515.2" y="443.22" font-size="10.8" fill="#1e1e1e" text-anchor="end" font-weight="normal">1.6</text>
<text x="515.2" y="479.82" font-size="10.8" fill="#1e1e1e" text-anchor="end" font-weight="normal">0.8</text>
<text x="515.2" y="516.32" font-size="10.8" fill="#1e1e1e" text-anchor="end" font-weight="normal">0.0</text>
<text x="520.3" y="525.42" font-size="10.8" fill="#1e1e1e" text-anchor="middle" font-weight="normal">540</text>
<text x="554" y="525.42" font-size="10.8" fill="#1e1e1e" text-anchor="middle" font-weight="normal">560</text>
<text x="587.6" y="525.42" font-size="10.8" fill="#1e1e1e" text-anchor="middle" font-weight="normal">580</text>
<text x="621.3" y="525.42" font-size="10.8" fill="#1e1e1e" text-anchor="middle" font-weight="normal">600</text>
<text x="654.9" y="525.42" font-size="10.8" fill="#1e1e1e" text-anchor="middle" font-weight="normal">580</text>
<text x="548.5" y="538.5" font-size="12.6" fill="#111" text-anchor="start" font-weight="bold">Wavelength (nm)</text>
<text x="495.2" y="453.5" font-size="13.1" fill="#111" text-anchor="middle" font-weight="bold" transform="rotate(-90 495.2 453.5)">Intensity (a.u.)</text>
<text x="487.1" y="379.8" font-size="13.6" fill="#111" text-anchor="start" font-weight="bold">(i)</text>
<text x="530.2" y="401.3" font-size="11.9" fill="#2525d0" font-weight="bold">28.5 MW/cm<tspan font-size="8.57" dy="-4">2</tspan></text>
<text x="545.9" y="465.5" font-size="11.9" fill="#d01c24" font-weight="bold">6.67 MW/cm<tspan font-size="8.57" dy="-4">2</tspan></text>
<text x="530.2" y="500.7" font-size="11.9" fill="#111" font-weight="bold">0.88 MW/cm<tspan font-size="8.57" dy="-4">2</tspan></text>
</svg></body></html>
